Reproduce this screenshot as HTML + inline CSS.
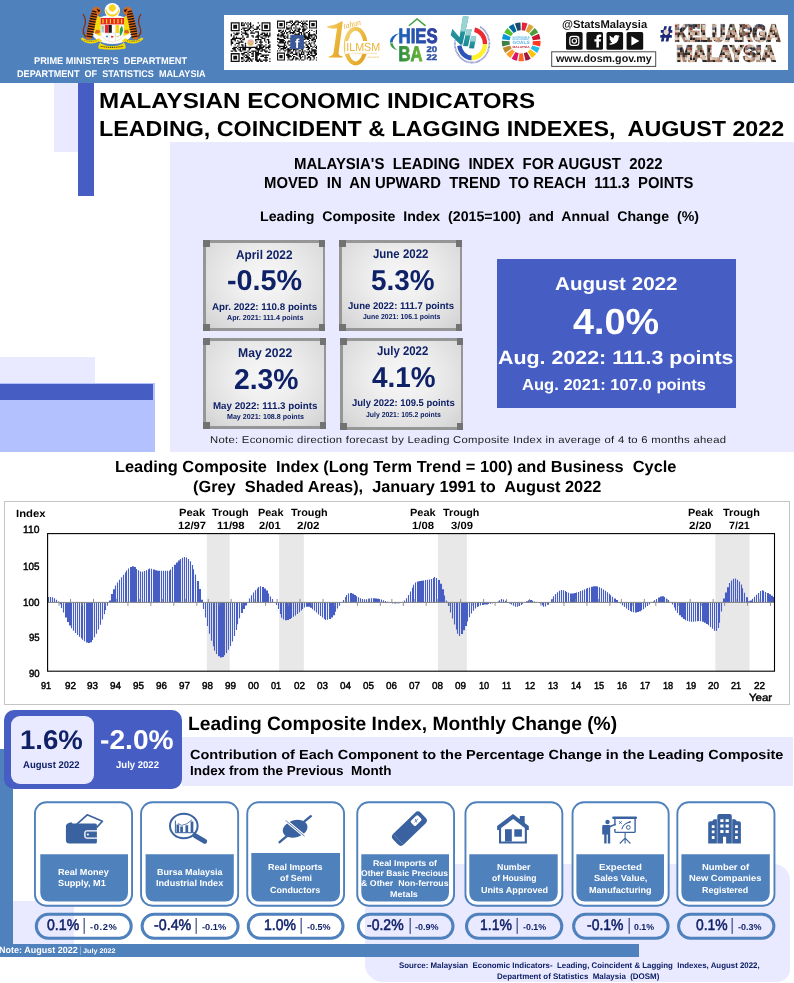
<!DOCTYPE html>
<html lang="en"><head><meta charset="utf-8"><title>Malaysian Economic Indicators - Leading, Coincident &amp; Lagging Indexes, August 2022</title>
<style>
html,body{margin:0;padding:0;background:#fff;}
body{font-family:"Liberation Sans",sans-serif;}
#pg{position:relative;width:794px;height:983px;overflow:hidden;background:#fff;}
.b{position:absolute;}
.t{position:absolute;white-space:pre;transform-origin:0 0;font-weight:bold;text-rendering:geometricPrecision;}
svg text{text-rendering:geometricPrecision;}
svg{position:absolute;overflow:visible;}
.card{position:absolute;background:#969696;}
.card b{position:absolute;left:2.5px;top:2.5px;right:2.5px;bottom:2.5px;background:radial-gradient(ellipse at 50% 42%,#f7f7f7 0%,#efefef 35%,#dcdcdc 80%,#d0d0d0 100%);}
.card i{position:absolute;width:6.5px;height:6.5px;background:#727272;}
.ic{position:absolute;box-sizing:border-box;border:2px solid #4F81BD;border-radius:12px;background:#fff;}
.lb{position:absolute;background:#4F81BD;border-radius:0 0 9px 9px;}
.pl{position:absolute;box-sizing:border-box;border:3px solid #4F81BD;border-radius:13.5px;}
</style></head><body><div id="pg">

<div class="b" style="left:0px;top:0px;width:794px;height:83px;background:#4F81BD;"></div>
<div class="b" style="left:54px;top:83px;width:26.5px;height:69px;background:#E9E9FF;"></div>
<div class="b" style="left:78px;top:83px;width:16.3px;height:113px;background:#465EC4;"></div>
<div class="b" style="left:170px;top:142px;width:624px;height:309.6px;background:#E9E9FF;"></div>
<div class="b" style="left:0px;top:357px;width:95px;height:26.3px;background:#E9E9FF;"></div>
<div class="b" style="left:0px;top:383px;width:154.7px;height:68.6px;background:#B3C2FF;"></div>
<div class="b" style="left:0px;top:384px;width:153px;height:16px;background:#465EC4;"></div>
<div class="b" style="left:224px;top:15px;width:564.2px;height:54.9px;background:#fff"></div><svg width="794" height="83" viewBox="0 0 794 83" style="left:0;top:0"><defs><linearGradient id="gd" x1="0" y1="0" x2="1" y2="1"><stop offset="0" stop-color="#F6D77A"/><stop offset="0.5" stop-color="#ECB73B"/><stop offset="1" stop-color="#E0A125"/></linearGradient><linearGradient id="hb" x1="0" y1="0" x2="1" y2="0"><stop offset="0" stop-color="#1F62B8"/><stop offset="1" stop-color="#2F3F9F"/></linearGradient><linearGradient id="hg" x1="0" y1="0" x2="1" y2="0"><stop offset="0" stop-color="#2B8C45"/><stop offset="1" stop-color="#6DB533"/></linearGradient><linearGradient id="tl" x1="0" y1="0" x2="0" y2="1"><stop offset="0" stop-color="#2FA9AC"/><stop offset="1" stop-color="#1B8593"/></linearGradient><pattern id="cg" width="35" height="20" patternUnits="userSpaceOnUse"><rect x="0.0" y="0.0" width="2.5" height="2.5" fill="#3a3a44"/><rect x="0.0" y="2.5" width="2.5" height="2.5" fill="#9a3a34"/><rect x="0.0" y="5.0" width="2.5" height="2.5" fill="#6e7a60"/><rect x="0.0" y="7.5" width="2.5" height="2.5" fill="#8a5a44"/><rect x="0.0" y="10.0" width="2.5" height="2.5" fill="#2b2420"/><rect x="0.0" y="12.5" width="2.5" height="2.5" fill="#bfa898"/><rect x="0.0" y="15.0" width="2.5" height="2.5" fill="#e8d4c4"/><rect x="0.0" y="17.5" width="2.5" height="2.5" fill="#b88a70"/><rect x="2.5" y="0.0" width="2.5" height="2.5" fill="#2f2a28"/><rect x="2.5" y="2.5" width="2.5" height="2.5" fill="#8a5a44"/><rect x="2.5" y="5.0" width="2.5" height="2.5" fill="#d9cfc8"/><rect x="2.5" y="7.5" width="2.5" height="2.5" fill="#d8b8a0"/><rect x="2.5" y="10.0" width="2.5" height="2.5" fill="#8a5a44"/><rect x="2.5" y="12.5" width="2.5" height="2.5" fill="#2b2420"/><rect x="2.5" y="15.0" width="2.5" height="2.5" fill="#e0c0a8"/><rect x="2.5" y="17.5" width="2.5" height="2.5" fill="#e0c0a8"/><rect x="5.0" y="0.0" width="2.5" height="2.5" fill="#2b2420"/><rect x="5.0" y="2.5" width="2.5" height="2.5" fill="#5a4638"/><rect x="5.0" y="5.0" width="2.5" height="2.5" fill="#2b2420"/><rect x="5.0" y="7.5" width="2.5" height="2.5" fill="#bfa898"/><rect x="5.0" y="10.0" width="2.5" height="2.5" fill="#e0c0a8"/><rect x="5.0" y="12.5" width="2.5" height="2.5" fill="#8a5a44"/><rect x="5.0" y="15.0" width="2.5" height="2.5" fill="#2f2a28"/><rect x="5.0" y="17.5" width="2.5" height="2.5" fill="#e8d4c4"/><rect x="7.5" y="0.0" width="2.5" height="2.5" fill="#5a4638"/><rect x="7.5" y="2.5" width="2.5" height="2.5" fill="#2f2a28"/><rect x="7.5" y="5.0" width="2.5" height="2.5" fill="#8a5a44"/><rect x="7.5" y="7.5" width="2.5" height="2.5" fill="#2f2a28"/><rect x="7.5" y="10.0" width="2.5" height="2.5" fill="#2f2a28"/><rect x="7.5" y="12.5" width="2.5" height="2.5" fill="#6e7a60"/><rect x="7.5" y="15.0" width="2.5" height="2.5" fill="#8a5a44"/><rect x="7.5" y="17.5" width="2.5" height="2.5" fill="#5a4638"/><rect x="10.0" y="0.0" width="2.5" height="2.5" fill="#8a5a44"/><rect x="10.0" y="2.5" width="2.5" height="2.5" fill="#bfa898"/><rect x="10.0" y="5.0" width="2.5" height="2.5" fill="#9a3a34"/><rect x="10.0" y="7.5" width="2.5" height="2.5" fill="#93735f"/><rect x="10.0" y="10.0" width="2.5" height="2.5" fill="#e0c0a8"/><rect x="10.0" y="12.5" width="2.5" height="2.5" fill="#9a3a34"/><rect x="10.0" y="15.0" width="2.5" height="2.5" fill="#bfa898"/><rect x="10.0" y="17.5" width="2.5" height="2.5" fill="#e8d4c4"/><rect x="12.5" y="0.0" width="2.5" height="2.5" fill="#2f2a28"/><rect x="12.5" y="2.5" width="2.5" height="2.5" fill="#93735f"/><rect x="12.5" y="5.0" width="2.5" height="2.5" fill="#bfa898"/><rect x="12.5" y="7.5" width="2.5" height="2.5" fill="#5a6a8a"/><rect x="12.5" y="10.0" width="2.5" height="2.5" fill="#e8d4c4"/><rect x="12.5" y="12.5" width="2.5" height="2.5" fill="#2f2a28"/><rect x="12.5" y="15.0" width="2.5" height="2.5" fill="#2f2a28"/><rect x="12.5" y="17.5" width="2.5" height="2.5" fill="#d8b8a0"/><rect x="15.0" y="0.0" width="2.5" height="2.5" fill="#b88a70"/><rect x="15.0" y="2.5" width="2.5" height="2.5" fill="#e8d4c4"/><rect x="15.0" y="5.0" width="2.5" height="2.5" fill="#bfa898"/><rect x="15.0" y="7.5" width="2.5" height="2.5" fill="#2b2420"/><rect x="15.0" y="10.0" width="2.5" height="2.5" fill="#2f2a28"/><rect x="15.0" y="12.5" width="2.5" height="2.5" fill="#8a5a44"/><rect x="15.0" y="15.0" width="2.5" height="2.5" fill="#c8b0a0"/><rect x="15.0" y="17.5" width="2.5" height="2.5" fill="#d8b8a0"/><rect x="17.5" y="0.0" width="2.5" height="2.5" fill="#a88c7c"/><rect x="17.5" y="2.5" width="2.5" height="2.5" fill="#bfa898"/><rect x="17.5" y="5.0" width="2.5" height="2.5" fill="#e0c0a8"/><rect x="17.5" y="7.5" width="2.5" height="2.5" fill="#3a3a44"/><rect x="17.5" y="10.0" width="2.5" height="2.5" fill="#4a3a34"/><rect x="17.5" y="12.5" width="2.5" height="2.5" fill="#2f2a28"/><rect x="17.5" y="15.0" width="2.5" height="2.5" fill="#4a3a34"/><rect x="17.5" y="17.5" width="2.5" height="2.5" fill="#b88a70"/><rect x="20.0" y="0.0" width="2.5" height="2.5" fill="#93735f"/><rect x="20.0" y="2.5" width="2.5" height="2.5" fill="#5a4638"/><rect x="20.0" y="5.0" width="2.5" height="2.5" fill="#5a6a8a"/><rect x="20.0" y="7.5" width="2.5" height="2.5" fill="#5a4638"/><rect x="20.0" y="10.0" width="2.5" height="2.5" fill="#2b2420"/><rect x="20.0" y="12.5" width="2.5" height="2.5" fill="#2f2a28"/><rect x="20.0" y="15.0" width="2.5" height="2.5" fill="#93735f"/><rect x="20.0" y="17.5" width="2.5" height="2.5" fill="#d9cfc8"/><rect x="22.5" y="0.0" width="2.5" height="2.5" fill="#a88c7c"/><rect x="22.5" y="2.5" width="2.5" height="2.5" fill="#3a3a44"/><rect x="22.5" y="5.0" width="2.5" height="2.5" fill="#4a3a34"/><rect x="22.5" y="7.5" width="2.5" height="2.5" fill="#93735f"/><rect x="22.5" y="10.0" width="2.5" height="2.5" fill="#c8b0a0"/><rect x="22.5" y="12.5" width="2.5" height="2.5" fill="#2b2420"/><rect x="22.5" y="15.0" width="2.5" height="2.5" fill="#e8d4c4"/><rect x="22.5" y="17.5" width="2.5" height="2.5" fill="#d9cfc8"/><rect x="25.0" y="0.0" width="2.5" height="2.5" fill="#e0c0a8"/><rect x="25.0" y="2.5" width="2.5" height="2.5" fill="#5a6a8a"/><rect x="25.0" y="5.0" width="2.5" height="2.5" fill="#3a3a44"/><rect x="25.0" y="7.5" width="2.5" height="2.5" fill="#9a3a34"/><rect x="25.0" y="10.0" width="2.5" height="2.5" fill="#a88c7c"/><rect x="25.0" y="12.5" width="2.5" height="2.5" fill="#e0c0a8"/><rect x="25.0" y="15.0" width="2.5" height="2.5" fill="#8a5a44"/><rect x="25.0" y="17.5" width="2.5" height="2.5" fill="#2b2420"/><rect x="27.5" y="0.0" width="2.5" height="2.5" fill="#bfa898"/><rect x="27.5" y="2.5" width="2.5" height="2.5" fill="#2f2a28"/><rect x="27.5" y="5.0" width="2.5" height="2.5" fill="#3a3a44"/><rect x="27.5" y="7.5" width="2.5" height="2.5" fill="#3a3a44"/><rect x="27.5" y="10.0" width="2.5" height="2.5" fill="#b88a70"/><rect x="27.5" y="12.5" width="2.5" height="2.5" fill="#c8b0a0"/><rect x="27.5" y="15.0" width="2.5" height="2.5" fill="#a88c7c"/><rect x="27.5" y="17.5" width="2.5" height="2.5" fill="#2f2a28"/><rect x="30.0" y="0.0" width="2.5" height="2.5" fill="#4a3a34"/><rect x="30.0" y="2.5" width="2.5" height="2.5" fill="#2b2420"/><rect x="30.0" y="5.0" width="2.5" height="2.5" fill="#2b2420"/><rect x="30.0" y="7.5" width="2.5" height="2.5" fill="#efe8e2"/><rect x="30.0" y="10.0" width="2.5" height="2.5" fill="#a88c7c"/><rect x="30.0" y="12.5" width="2.5" height="2.5" fill="#2b2420"/><rect x="30.0" y="15.0" width="2.5" height="2.5" fill="#8a5a44"/><rect x="30.0" y="17.5" width="2.5" height="2.5" fill="#93735f"/><rect x="32.5" y="0.0" width="2.5" height="2.5" fill="#2f2a28"/><rect x="32.5" y="2.5" width="2.5" height="2.5" fill="#4a3a34"/><rect x="32.5" y="5.0" width="2.5" height="2.5" fill="#93735f"/><rect x="32.5" y="7.5" width="2.5" height="2.5" fill="#6e7a60"/><rect x="32.5" y="10.0" width="2.5" height="2.5" fill="#b88a70"/><rect x="32.5" y="12.5" width="2.5" height="2.5" fill="#c9a088"/><rect x="32.5" y="15.0" width="2.5" height="2.5" fill="#4a3a34"/><rect x="32.5" y="17.5" width="2.5" height="2.5" fill="#b88a70"/></pattern></defs><path d="M93 12Q100 5 112 4Q124 5 131 12L134 30Q133 40 126 43L98 43Q91 40 90 30z" fill="#fff" opacity="0.0"/><ellipse cx="112.3" cy="29.5" rx="21.5" ry="14.5" fill="#fff"/><circle cx="112.3" cy="10.6" r="7.7" fill="#fff"/><path d="M80.6 38.8Q84 43 90 43.4Q96 43.6 99 41.2L101.5 43.8Q106 46.3 112 46.3Q118 46.3 122.5 43.8L125 41.2Q128 43.6 134 43.4Q140 43 143.6 38.8L141.8 37.6Q138 40.6 133 40.4Q128 40.2 125.6 38.2L122 40.6L124.5 43.4Q126.5 46.4 125 48.8Q118 49.8 112 49.8Q106 49.8 99 48.8Q97.5 46.4 99.5 43.4L102 40.6L98.4 38.2Q96 40.2 91 40.4Q86 40.6 82.4 37.6z" fill="#F5D90A"/><path d="M100.5 46.2Q112 48.6 123.5 46.2" stroke="#5a4a00" stroke-width="1.1" fill="none" stroke-dasharray="1.2 0.7"/><path d="M84 40.2Q90 42.5 97 40.6M127 40.6Q134 42.5 140 40.2" stroke="#6b5a00" stroke-width="0.8" fill="none" stroke-dasharray="1 0.8"/><path d="M87 38Q81 33 84.5 26Q87 20 83 14" stroke="#8a2d12" stroke-width="1.3" fill="none"/><path d="M97 15Q101 17 101 22L100.5 36Q98 36 94.5 33Q92.5 26 97 15z" fill="#F5D90A"/><path d="M95.5 6.8Q100.5 7 101 11.5Q100 14.5 97.8 15.5Q95.5 21 94.6 27Q93.5 33 91 39.5L86.5 39.5Q85.5 33 88.5 24Q90.5 14 92.5 9.5Q93.5 7.2 95.5 6.8z" fill="#DA6A1B"/><path d="M92.2 11L96.5 12.1M91.2 13.5L97 14.6M90.4 16L96.8 17.1M89.8 18.5L96.2 19.6M89.2 21L95.6 22.1M88.6 23.5L95.2 24.6M88 26L94.8 27.1M87.4 28.5L94.4 29.6M87 31L94 32.1M86.8 33.5L93.4 34.6M86.6 36L92.6 37.1" stroke="#2a1206" stroke-width="1.3"/><path d="M96.5 8.6L100.4 10.2L98.6 12.6z" fill="#2a1206"/><path d="M96 30Q99.5 29 100.5 32Q98 34.5 94.5 33z" fill="#DA6A1B"/><path d="M137 38Q143 33 139.5 26Q137 20 141 14" stroke="#8a2d12" stroke-width="1.3" fill="none"/><path d="M127 15Q123 17 123 22L123.5 36Q126 36 129.5 33Q131.5 26 127 15z" fill="#F5D90A"/><path d="M128.5 6.8Q123.5 7 123 11.5Q124 14.5 126.2 15.5Q128.5 21 129.4 27Q130.5 33 133 39.5L137.5 39.5Q138.5 33 135.5 24Q133.5 14 131.5 9.5Q130.5 7.2 128.5 6.8z" fill="#DA6A1B"/><path d="M131.8 11L127.5 12.1M132.8 13.5L127 14.6M133.6 16L127.2 17.1M134.2 18.5L127.8 19.6M134.8 21L128.4 22.1M135.4 23.5L128.8 24.6M136 26L129.2 27.1M136.6 28.5L129.6 29.6M137 31L130 32.1M137.2 33.5L130.6 34.6M137.4 36L131.4 37.1" stroke="#2a1206" stroke-width="1.3"/><path d="M127.5 8.6L123.6 10.2L125.4 12.6z" fill="#2a1206"/><path d="M128 30Q124.5 29 123.5 32Q126 34.5 129.5 33z" fill="#DA6A1B"/><path d="M105.2 9.6A7.1 7.1 0 0 0 119.4 9.6L118.2 9.2A5.9 5.4 0 0 1 106.4 9.2z" fill="#F7D417"/><polygon points="112.30,3.80 112.97,5.08 114.12,4.22 114.17,5.65 115.58,5.38 115.00,6.70 116.39,7.07 115.30,8.00 116.39,8.93 115.00,9.30 115.58,10.62 114.17,10.35 114.12,11.78 112.97,10.92 112.30,12.20 111.63,10.92 110.48,11.78 110.43,10.35 109.02,10.62 109.60,9.30 108.21,8.93 109.30,8.00 108.21,7.07 109.60,6.70 109.02,5.38 110.43,5.65 110.48,4.22 111.63,5.08" fill="#F7D417"/><path d="M100.7 18H124V32Q124 39.5 112.3 42.4Q100.7 39.5 100.7 32z" fill="#fff" stroke="#d8c27a" stroke-width="0.4"/><rect x="100.7" y="18" width="23.3" height="6.4" fill="#E8262B"/><path d="M103 19v4.6M106.6 19v4.6M110.4 19v4.6M114.2 19v4.6M118 19v4.6M121.6 19v4.6" stroke="#F7D417" stroke-width="1.2"/><rect x="104.9" y="24.9" width="3.7" height="8" fill="#E8262B"/><rect x="108.6" y="24.9" width="3.2" height="8" fill="#1a1a1a"/><rect x="115.5" y="24.9" width="3.7" height="8" fill="#F7D417"/><path d="M101.4 25.5h2.8v7h-2.8z" fill="#9ed0e8"/><path d="M102.4 26v3" stroke="#d8b000" stroke-width="0.8"/><path d="M121.6 25.6Q123.4 28 123 31Q121.6 35 119.9 36.6Q119.4 32 120 29z" fill="#27A54A"/><circle cx="107" cy="36.4" r="1" fill="#3b7fd0"/><path d="M111 35.6l2.8 1-2.2 1.6z" fill="#d22"/><path d="M116 35.6l1.6 1.6 1.2-1.8" stroke="#c9a400" stroke-width="0.7" fill="none"/><path d="M104.9 33H119.2M108.9 33V40.8M115.4 33V41" stroke="#bbb" stroke-width="0.4"/><path d="M230.70 22.30h8.99v1.28h-8.99zM240.97 22.30h2.57v1.28h-2.57zM244.82 22.30h1.28v1.28h-1.28zM247.39 22.30h1.28v1.28h-1.28zM249.96 22.30h1.28v1.28h-1.28zM257.66 22.30h1.28v1.28h-1.28zM261.51 22.30h8.99v1.28h-8.99zM230.70 23.58h1.28v1.28h-1.28zM238.40 23.58h1.28v1.28h-1.28zM240.97 23.58h1.28v1.28h-1.28zM243.54 23.58h1.28v1.28h-1.28zM246.11 23.58h1.28v1.28h-1.28zM248.67 23.58h2.57v1.28h-2.57zM261.51 23.58h1.28v1.28h-1.28zM269.22 23.58h1.28v1.28h-1.28zM230.70 24.87h1.28v1.28h-1.28zM233.27 24.87h3.85v1.28h-3.85zM238.40 24.87h1.28v1.28h-1.28zM240.97 24.87h3.85v1.28h-3.85zM247.39 24.87h1.28v1.28h-1.28zM249.96 24.87h1.28v1.28h-1.28zM252.53 24.87h1.28v1.28h-1.28zM258.95 24.87h1.28v1.28h-1.28zM261.51 24.87h1.28v1.28h-1.28zM264.08 24.87h3.85v1.28h-3.85zM269.22 24.87h1.28v1.28h-1.28zM230.70 26.15h1.28v1.28h-1.28zM233.27 26.15h3.85v1.28h-3.85zM238.40 26.15h1.28v1.28h-1.28zM247.39 26.15h1.28v1.28h-1.28zM249.96 26.15h2.57v1.28h-2.57zM256.38 26.15h2.57v1.28h-2.57zM261.51 26.15h1.28v1.28h-1.28zM264.08 26.15h3.85v1.28h-3.85zM269.22 26.15h1.28v1.28h-1.28zM230.70 27.44h1.28v1.28h-1.28zM233.27 27.44h3.85v1.28h-3.85zM238.40 27.44h1.28v1.28h-1.28zM242.25 27.44h5.14v1.28h-5.14zM248.67 27.44h2.57v1.28h-2.57zM252.53 27.44h1.28v1.28h-1.28zM256.38 27.44h2.57v1.28h-2.57zM261.51 27.44h1.28v1.28h-1.28zM264.08 27.44h3.85v1.28h-3.85zM269.22 27.44h1.28v1.28h-1.28zM230.70 28.72h1.28v1.28h-1.28zM238.40 28.72h1.28v1.28h-1.28zM240.97 28.72h1.28v1.28h-1.28zM243.54 28.72h1.28v1.28h-1.28zM247.39 28.72h2.57v1.28h-2.57zM253.81 28.72h3.85v1.28h-3.85zM258.95 28.72h1.28v1.28h-1.28zM261.51 28.72h1.28v1.28h-1.28zM269.22 28.72h1.28v1.28h-1.28zM230.70 30.00h8.99v1.28h-8.99zM243.54 30.00h5.14v1.28h-5.14zM249.96 30.00h1.28v1.28h-1.28zM252.53 30.00h1.28v1.28h-1.28zM261.51 30.00h8.99v1.28h-8.99zM240.97 31.29h1.28v1.28h-1.28zM244.82 31.29h1.28v1.28h-1.28zM251.24 31.29h1.28v1.28h-1.28zM255.09 31.29h3.85v1.28h-3.85zM233.27 32.57h1.28v1.28h-1.28zM235.84 32.57h3.85v1.28h-3.85zM242.25 32.57h5.14v1.28h-5.14zM249.96 32.57h5.14v1.28h-5.14zM257.66 32.57h1.28v1.28h-1.28zM261.51 32.57h3.85v1.28h-3.85zM266.65 32.57h1.28v1.28h-1.28zM269.22 32.57h1.28v1.28h-1.28zM230.70 33.85h1.28v1.28h-1.28zM234.55 33.85h3.85v1.28h-3.85zM240.97 33.85h1.28v1.28h-1.28zM244.82 33.85h3.85v1.28h-3.85zM257.66 33.85h1.28v1.28h-1.28zM260.23 33.85h2.57v1.28h-2.57zM264.08 33.85h3.85v1.28h-3.85zM269.22 33.85h1.28v1.28h-1.28zM230.70 35.14h1.28v1.28h-1.28zM233.27 35.14h1.28v1.28h-1.28zM242.25 35.14h1.28v1.28h-1.28zM247.39 35.14h1.28v1.28h-1.28zM251.24 35.14h2.57v1.28h-2.57zM256.38 35.14h3.85v1.28h-3.85zM262.80 35.14h7.70v1.28h-7.70zM233.27 36.42h1.28v1.28h-1.28zM235.84 36.42h1.28v1.28h-1.28zM242.25 36.42h1.28v1.28h-1.28zM246.11 36.42h2.57v1.28h-2.57zM252.53 36.42h1.28v1.28h-1.28zM255.09 36.42h3.85v1.28h-3.85zM260.23 36.42h2.57v1.28h-2.57zM265.36 36.42h1.28v1.28h-1.28zM267.93 36.42h1.28v1.28h-1.28zM231.98 37.71h10.27v1.28h-10.27zM243.54 37.71h1.28v1.28h-1.28zM257.66 37.71h1.28v1.28h-1.28zM261.51 37.71h3.85v1.28h-3.85zM230.70 38.99h5.14v1.28h-5.14zM239.69 38.99h1.28v1.28h-1.28zM242.25 38.99h2.57v1.28h-2.57zM255.09 38.99h6.42v1.28h-6.42zM264.08 38.99h1.28v1.28h-1.28zM266.65 38.99h2.57v1.28h-2.57zM230.70 40.27h1.28v1.28h-1.28zM234.55 40.27h1.28v1.28h-1.28zM237.12 40.27h1.28v1.28h-1.28zM240.97 40.27h1.28v1.28h-1.28zM255.09 40.27h1.28v1.28h-1.28zM260.23 40.27h1.28v1.28h-1.28zM264.08 40.27h1.28v1.28h-1.28zM267.93 40.27h1.28v1.28h-1.28zM230.70 41.56h2.57v1.28h-2.57zM238.40 41.56h5.14v1.28h-5.14zM256.38 41.56h1.28v1.28h-1.28zM258.95 41.56h3.85v1.28h-3.85zM265.36 41.56h1.28v1.28h-1.28zM267.93 41.56h2.57v1.28h-2.57zM230.70 42.84h2.57v1.28h-2.57zM235.84 42.84h3.85v1.28h-3.85zM244.82 42.84h1.28v1.28h-1.28zM255.09 42.84h1.28v1.28h-1.28zM260.23 42.84h1.28v1.28h-1.28zM267.93 42.84h1.28v1.28h-1.28zM230.70 44.13h1.28v1.28h-1.28zM234.55 44.13h1.28v1.28h-1.28zM238.40 44.13h1.28v1.28h-1.28zM240.97 44.13h2.57v1.28h-2.57zM244.82 44.13h1.28v1.28h-1.28zM257.66 44.13h5.14v1.28h-5.14zM265.36 44.13h1.28v1.28h-1.28zM269.22 44.13h1.28v1.28h-1.28zM237.12 45.41h1.28v1.28h-1.28zM242.25 45.41h1.28v1.28h-1.28zM244.82 45.41h1.28v1.28h-1.28zM256.38 45.41h1.28v1.28h-1.28zM258.95 45.41h2.57v1.28h-2.57zM262.80 45.41h2.57v1.28h-2.57zM267.93 45.41h2.57v1.28h-2.57zM233.27 46.69h3.85v1.28h-3.85zM238.40 46.69h19.26v1.28h-19.26zM258.95 46.69h5.14v1.28h-5.14zM265.36 46.69h5.14v1.28h-5.14zM231.98 47.98h3.85v1.28h-3.85zM237.12 47.98h1.28v1.28h-1.28zM239.69 47.98h1.28v1.28h-1.28zM242.25 47.98h3.85v1.28h-3.85zM248.67 47.98h2.57v1.28h-2.57zM255.09 47.98h7.70v1.28h-7.70zM265.36 47.98h1.28v1.28h-1.28zM267.93 47.98h1.28v1.28h-1.28zM233.27 49.26h2.57v1.28h-2.57zM238.40 49.26h2.57v1.28h-2.57zM242.25 49.26h3.85v1.28h-3.85zM248.67 49.26h1.28v1.28h-1.28zM256.38 49.26h3.85v1.28h-3.85zM261.51 49.26h3.85v1.28h-3.85zM269.22 49.26h1.28v1.28h-1.28zM230.70 50.55h2.57v1.28h-2.57zM234.55 50.55h2.57v1.28h-2.57zM239.69 50.55h2.57v1.28h-2.57zM247.39 50.55h1.28v1.28h-1.28zM251.24 50.55h5.14v1.28h-5.14zM257.66 50.55h1.28v1.28h-1.28zM260.23 50.55h2.57v1.28h-2.57zM264.08 50.55h3.85v1.28h-3.85zM243.54 51.83h3.85v1.28h-3.85zM248.67 51.83h2.57v1.28h-2.57zM252.53 51.83h1.28v1.28h-1.28zM255.09 51.83h3.85v1.28h-3.85zM265.36 51.83h1.28v1.28h-1.28zM267.93 51.83h2.57v1.28h-2.57zM230.70 53.11h8.99v1.28h-8.99zM240.97 53.11h3.85v1.28h-3.85zM247.39 53.11h1.28v1.28h-1.28zM251.24 53.11h2.57v1.28h-2.57zM255.09 53.11h6.42v1.28h-6.42zM230.70 54.40h1.28v1.28h-1.28zM238.40 54.40h1.28v1.28h-1.28zM242.25 54.40h1.28v1.28h-1.28zM244.82 54.40h2.57v1.28h-2.57zM248.67 54.40h1.28v1.28h-1.28zM252.53 54.40h1.28v1.28h-1.28zM255.09 54.40h3.85v1.28h-3.85zM261.51 54.40h7.70v1.28h-7.70zM230.70 55.68h1.28v1.28h-1.28zM233.27 55.68h3.85v1.28h-3.85zM238.40 55.68h1.28v1.28h-1.28zM243.54 55.68h1.28v1.28h-1.28zM246.11 55.68h2.57v1.28h-2.57zM251.24 55.68h2.57v1.28h-2.57zM255.09 55.68h2.57v1.28h-2.57zM260.23 55.68h3.85v1.28h-3.85zM265.36 55.68h1.28v1.28h-1.28zM230.70 56.96h1.28v1.28h-1.28zM233.27 56.96h3.85v1.28h-3.85zM238.40 56.96h1.28v1.28h-1.28zM240.97 56.96h2.57v1.28h-2.57zM244.82 56.96h5.14v1.28h-5.14zM255.09 56.96h2.57v1.28h-2.57zM264.08 56.96h3.85v1.28h-3.85zM230.70 58.25h1.28v1.28h-1.28zM233.27 58.25h3.85v1.28h-3.85zM238.40 58.25h1.28v1.28h-1.28zM240.97 58.25h2.57v1.28h-2.57zM247.39 58.25h3.85v1.28h-3.85zM252.53 58.25h1.28v1.28h-1.28zM255.09 58.25h2.57v1.28h-2.57zM258.95 58.25h1.28v1.28h-1.28zM265.36 58.25h1.28v1.28h-1.28zM269.22 58.25h1.28v1.28h-1.28zM230.70 59.53h1.28v1.28h-1.28zM238.40 59.53h1.28v1.28h-1.28zM243.54 59.53h1.28v1.28h-1.28zM246.11 59.53h2.57v1.28h-2.57zM249.96 59.53h2.57v1.28h-2.57zM255.09 59.53h6.42v1.28h-6.42zM262.80 59.53h5.14v1.28h-5.14zM230.70 60.82h8.99v1.28h-8.99zM240.97 60.82h2.57v1.28h-2.57zM244.82 60.82h2.57v1.28h-2.57zM248.67 60.82h1.28v1.28h-1.28zM251.24 60.82h1.28v1.28h-1.28zM256.38 60.82h2.57v1.28h-2.57zM260.23 60.82h2.57v1.28h-2.57zM265.36 60.82h1.28v1.28h-1.28zM269.22 60.82h1.28v1.28h-1.28z" fill="#111"/><circle cx="250.6" cy="42.5" r="3.2" fill="#e9b6a0"/><path d="M248.6 43.6h4v1.6h-4z" fill="#d8c040"/><path d="M277.00 20.60h8.00v1.14h-8.00zM289.57 20.60h3.43v1.14h-3.43zM295.29 20.60h3.43v1.14h-3.43zM301.00 20.60h1.14v1.14h-1.14zM303.29 20.60h1.14v1.14h-1.14zM305.57 20.60h2.29v1.14h-2.29zM309.00 20.60h8.00v1.14h-8.00zM277.00 21.74h1.14v1.14h-1.14zM283.86 21.74h1.14v1.14h-1.14zM286.14 21.74h4.57v1.14h-4.57zM291.86 21.74h1.14v1.14h-1.14zM294.14 21.74h2.29v1.14h-2.29zM297.57 21.74h3.43v1.14h-3.43zM302.14 21.74h1.14v1.14h-1.14zM304.43 21.74h1.14v1.14h-1.14zM309.00 21.74h1.14v1.14h-1.14zM315.86 21.74h1.14v1.14h-1.14zM277.00 22.89h1.14v1.14h-1.14zM279.29 22.89h3.43v1.14h-3.43zM283.86 22.89h1.14v1.14h-1.14zM286.14 22.89h1.14v1.14h-1.14zM290.71 22.89h1.14v1.14h-1.14zM293.00 22.89h2.29v1.14h-2.29zM297.57 22.89h1.14v1.14h-1.14zM301.00 22.89h5.71v1.14h-5.71zM309.00 22.89h1.14v1.14h-1.14zM311.29 22.89h3.43v1.14h-3.43zM315.86 22.89h1.14v1.14h-1.14zM277.00 24.03h1.14v1.14h-1.14zM279.29 24.03h3.43v1.14h-3.43zM283.86 24.03h1.14v1.14h-1.14zM286.14 24.03h1.14v1.14h-1.14zM291.86 24.03h3.43v1.14h-3.43zM296.43 24.03h2.29v1.14h-2.29zM302.14 24.03h2.29v1.14h-2.29zM305.57 24.03h2.29v1.14h-2.29zM309.00 24.03h1.14v1.14h-1.14zM311.29 24.03h3.43v1.14h-3.43zM315.86 24.03h1.14v1.14h-1.14zM277.00 25.17h1.14v1.14h-1.14zM279.29 25.17h3.43v1.14h-3.43zM283.86 25.17h1.14v1.14h-1.14zM288.43 25.17h1.14v1.14h-1.14zM290.71 25.17h2.29v1.14h-2.29zM295.29 25.17h1.14v1.14h-1.14zM299.86 25.17h1.14v1.14h-1.14zM302.14 25.17h1.14v1.14h-1.14zM304.43 25.17h1.14v1.14h-1.14zM309.00 25.17h1.14v1.14h-1.14zM311.29 25.17h3.43v1.14h-3.43zM315.86 25.17h1.14v1.14h-1.14zM277.00 26.31h1.14v1.14h-1.14zM283.86 26.31h1.14v1.14h-1.14zM286.14 26.31h1.14v1.14h-1.14zM290.71 26.31h1.14v1.14h-1.14zM295.29 26.31h1.14v1.14h-1.14zM301.00 26.31h3.43v1.14h-3.43zM305.57 26.31h1.14v1.14h-1.14zM309.00 26.31h1.14v1.14h-1.14zM315.86 26.31h1.14v1.14h-1.14zM277.00 27.46h8.00v1.14h-8.00zM286.14 27.46h5.71v1.14h-5.71zM293.00 27.46h2.29v1.14h-2.29zM296.43 27.46h1.14v1.14h-1.14zM298.71 27.46h1.14v1.14h-1.14zM303.29 27.46h1.14v1.14h-1.14zM306.71 27.46h1.14v1.14h-1.14zM309.00 27.46h8.00v1.14h-8.00zM286.14 28.60h3.43v1.14h-3.43zM290.71 28.60h1.14v1.14h-1.14zM295.29 28.60h1.14v1.14h-1.14zM297.57 28.60h3.43v1.14h-3.43zM302.14 28.60h4.57v1.14h-4.57zM278.14 29.74h3.43v1.14h-3.43zM282.71 29.74h1.14v1.14h-1.14zM285.00 29.74h1.14v1.14h-1.14zM289.57 29.74h1.14v1.14h-1.14zM291.86 29.74h1.14v1.14h-1.14zM294.14 29.74h2.29v1.14h-2.29zM297.57 29.74h2.29v1.14h-2.29zM302.14 29.74h3.43v1.14h-3.43zM309.00 29.74h1.14v1.14h-1.14zM311.29 29.74h1.14v1.14h-1.14zM315.86 29.74h1.14v1.14h-1.14zM278.14 30.89h2.29v1.14h-2.29zM281.57 30.89h2.29v1.14h-2.29zM285.00 30.89h1.14v1.14h-1.14zM288.43 30.89h2.29v1.14h-2.29zM293.00 30.89h2.29v1.14h-2.29zM296.43 30.89h3.43v1.14h-3.43zM302.14 30.89h2.29v1.14h-2.29zM307.86 30.89h1.14v1.14h-1.14zM313.57 30.89h1.14v1.14h-1.14zM315.86 30.89h1.14v1.14h-1.14zM280.43 32.03h2.29v1.14h-2.29zM283.86 32.03h1.14v1.14h-1.14zM286.14 32.03h2.29v1.14h-2.29zM289.57 32.03h5.71v1.14h-5.71zM298.71 32.03h3.43v1.14h-3.43zM303.29 32.03h1.14v1.14h-1.14zM305.57 32.03h2.29v1.14h-2.29zM309.00 32.03h1.14v1.14h-1.14zM315.86 32.03h1.14v1.14h-1.14zM278.14 33.17h1.14v1.14h-1.14zM281.57 33.17h3.43v1.14h-3.43zM286.14 33.17h1.14v1.14h-1.14zM289.57 33.17h1.14v1.14h-1.14zM291.86 33.17h2.29v1.14h-2.29zM295.29 33.17h1.14v1.14h-1.14zM297.57 33.17h2.29v1.14h-2.29zM301.00 33.17h1.14v1.14h-1.14zM303.29 33.17h2.29v1.14h-2.29zM307.86 33.17h2.29v1.14h-2.29zM313.57 33.17h1.14v1.14h-1.14zM315.86 33.17h1.14v1.14h-1.14zM277.00 34.31h2.29v1.14h-2.29zM280.43 34.31h3.43v1.14h-3.43zM287.29 34.31h1.14v1.14h-1.14zM294.14 34.31h5.71v1.14h-5.71zM301.00 34.31h1.14v1.14h-1.14zM303.29 34.31h2.29v1.14h-2.29zM307.86 34.31h8.00v1.14h-8.00zM277.00 35.46h9.14v1.14h-9.14zM287.29 35.46h1.14v1.14h-1.14zM291.86 35.46h1.14v1.14h-1.14zM294.14 35.46h1.14v1.14h-1.14zM296.43 35.46h1.14v1.14h-1.14zM299.86 35.46h6.86v1.14h-6.86zM307.86 35.46h4.57v1.14h-4.57zM314.71 35.46h2.29v1.14h-2.29zM280.43 36.60h1.14v1.14h-1.14zM282.71 36.60h2.29v1.14h-2.29zM286.14 36.60h2.29v1.14h-2.29zM291.86 36.60h1.14v1.14h-1.14zM301.00 36.60h9.14v1.14h-9.14zM311.29 36.60h1.14v1.14h-1.14zM313.57 36.60h1.14v1.14h-1.14zM315.86 36.60h1.14v1.14h-1.14zM277.00 37.74h2.29v1.14h-2.29zM283.86 37.74h2.29v1.14h-2.29zM287.29 37.74h1.14v1.14h-1.14zM289.57 37.74h1.14v1.14h-1.14zM301.00 37.74h1.14v1.14h-1.14zM304.43 37.74h6.86v1.14h-6.86zM312.43 37.74h2.29v1.14h-2.29zM315.86 37.74h1.14v1.14h-1.14zM277.00 38.89h6.86v1.14h-6.86zM290.71 38.89h1.14v1.14h-1.14zM301.00 38.89h4.57v1.14h-4.57zM306.71 38.89h2.29v1.14h-2.29zM311.29 38.89h4.57v1.14h-4.57zM279.29 40.03h5.71v1.14h-5.71zM288.43 40.03h1.14v1.14h-1.14zM290.71 40.03h1.14v1.14h-1.14zM301.00 40.03h2.29v1.14h-2.29zM309.00 40.03h1.14v1.14h-1.14zM311.29 40.03h2.29v1.14h-2.29zM314.71 40.03h1.14v1.14h-1.14zM277.00 41.17h1.14v1.14h-1.14zM279.29 41.17h4.57v1.14h-4.57zM285.00 41.17h1.14v1.14h-1.14zM287.29 41.17h3.43v1.14h-3.43zM301.00 41.17h2.29v1.14h-2.29zM305.57 41.17h1.14v1.14h-1.14zM307.86 41.17h1.14v1.14h-1.14zM313.57 41.17h2.29v1.14h-2.29zM278.14 42.31h8.00v1.14h-8.00zM287.29 42.31h1.14v1.14h-1.14zM301.00 42.31h4.57v1.14h-4.57zM309.00 42.31h1.14v1.14h-1.14zM311.29 42.31h1.14v1.14h-1.14zM313.57 42.31h1.14v1.14h-1.14zM283.86 43.46h1.14v1.14h-1.14zM287.29 43.46h1.14v1.14h-1.14zM290.71 43.46h2.29v1.14h-2.29zM301.00 43.46h1.14v1.14h-1.14zM305.57 43.46h1.14v1.14h-1.14zM307.86 43.46h3.43v1.14h-3.43zM313.57 43.46h1.14v1.14h-1.14zM277.00 44.60h2.29v1.14h-2.29zM283.86 44.60h2.29v1.14h-2.29zM288.43 44.60h2.29v1.14h-2.29zM293.00 44.60h3.43v1.14h-3.43zM298.71 44.60h2.29v1.14h-2.29zM305.57 44.60h2.29v1.14h-2.29zM310.14 44.60h1.14v1.14h-1.14zM314.71 44.60h1.14v1.14h-1.14zM278.14 45.74h6.86v1.14h-6.86zM286.14 45.74h1.14v1.14h-1.14zM297.57 45.74h6.86v1.14h-6.86zM306.71 45.74h2.29v1.14h-2.29zM310.14 45.74h2.29v1.14h-2.29zM313.57 45.74h1.14v1.14h-1.14zM315.86 45.74h1.14v1.14h-1.14zM279.29 46.89h1.14v1.14h-1.14zM282.71 46.89h4.57v1.14h-4.57zM289.57 46.89h3.43v1.14h-3.43zM296.43 46.89h2.29v1.14h-2.29zM301.00 46.89h3.43v1.14h-3.43zM305.57 46.89h4.57v1.14h-4.57zM312.43 46.89h1.14v1.14h-1.14zM314.71 46.89h2.29v1.14h-2.29zM278.14 48.03h1.14v1.14h-1.14zM280.43 48.03h5.71v1.14h-5.71zM287.29 48.03h2.29v1.14h-2.29zM290.71 48.03h4.57v1.14h-4.57zM298.71 48.03h2.29v1.14h-2.29zM302.14 48.03h1.14v1.14h-1.14zM307.86 48.03h2.29v1.14h-2.29zM311.29 48.03h1.14v1.14h-1.14zM315.86 48.03h1.14v1.14h-1.14zM280.43 49.17h1.14v1.14h-1.14zM282.71 49.17h1.14v1.14h-1.14zM286.14 49.17h5.71v1.14h-5.71zM293.00 49.17h5.71v1.14h-5.71zM301.00 49.17h2.29v1.14h-2.29zM306.71 49.17h2.29v1.14h-2.29zM311.29 49.17h4.57v1.14h-4.57zM277.00 50.31h1.14v1.14h-1.14zM279.29 50.31h1.14v1.14h-1.14zM283.86 50.31h2.29v1.14h-2.29zM287.29 50.31h3.43v1.14h-3.43zM293.00 50.31h1.14v1.14h-1.14zM295.29 50.31h1.14v1.14h-1.14zM298.71 50.31h2.29v1.14h-2.29zM302.14 50.31h1.14v1.14h-1.14zM304.43 50.31h1.14v1.14h-1.14zM309.00 50.31h1.14v1.14h-1.14zM311.29 50.31h5.71v1.14h-5.71zM287.29 51.46h2.29v1.14h-2.29zM290.71 51.46h2.29v1.14h-2.29zM295.29 51.46h1.14v1.14h-1.14zM297.57 51.46h1.14v1.14h-1.14zM301.00 51.46h3.43v1.14h-3.43zM305.57 51.46h6.86v1.14h-6.86zM313.57 51.46h2.29v1.14h-2.29zM277.00 52.60h8.00v1.14h-8.00zM287.29 52.60h1.14v1.14h-1.14zM289.57 52.60h3.43v1.14h-3.43zM295.29 52.60h2.29v1.14h-2.29zM298.71 52.60h1.14v1.14h-1.14zM301.00 52.60h1.14v1.14h-1.14zM303.29 52.60h1.14v1.14h-1.14zM307.86 52.60h1.14v1.14h-1.14zM310.14 52.60h2.29v1.14h-2.29zM313.57 52.60h3.43v1.14h-3.43zM277.00 53.74h1.14v1.14h-1.14zM283.86 53.74h1.14v1.14h-1.14zM286.14 53.74h3.43v1.14h-3.43zM293.00 53.74h4.57v1.14h-4.57zM298.71 53.74h5.71v1.14h-5.71zM306.71 53.74h3.43v1.14h-3.43zM311.29 53.74h1.14v1.14h-1.14zM314.71 53.74h2.29v1.14h-2.29zM277.00 54.89h1.14v1.14h-1.14zM279.29 54.89h3.43v1.14h-3.43zM283.86 54.89h1.14v1.14h-1.14zM286.14 54.89h4.57v1.14h-4.57zM291.86 54.89h1.14v1.14h-1.14zM296.43 54.89h1.14v1.14h-1.14zM298.71 54.89h2.29v1.14h-2.29zM304.43 54.89h1.14v1.14h-1.14zM306.71 54.89h1.14v1.14h-1.14zM310.14 54.89h5.71v1.14h-5.71zM277.00 56.03h1.14v1.14h-1.14zM279.29 56.03h3.43v1.14h-3.43zM283.86 56.03h1.14v1.14h-1.14zM287.29 56.03h4.57v1.14h-4.57zM293.00 56.03h2.29v1.14h-2.29zM298.71 56.03h2.29v1.14h-2.29zM302.14 56.03h1.14v1.14h-1.14zM304.43 56.03h1.14v1.14h-1.14zM307.86 56.03h2.29v1.14h-2.29zM312.43 56.03h2.29v1.14h-2.29zM277.00 57.17h1.14v1.14h-1.14zM279.29 57.17h3.43v1.14h-3.43zM283.86 57.17h1.14v1.14h-1.14zM287.29 57.17h2.29v1.14h-2.29zM293.00 57.17h1.14v1.14h-1.14zM295.29 57.17h2.29v1.14h-2.29zM299.86 57.17h2.29v1.14h-2.29zM304.43 57.17h1.14v1.14h-1.14zM306.71 57.17h4.57v1.14h-4.57zM313.57 57.17h1.14v1.14h-1.14zM315.86 57.17h1.14v1.14h-1.14zM277.00 58.31h1.14v1.14h-1.14zM283.86 58.31h1.14v1.14h-1.14zM288.43 58.31h1.14v1.14h-1.14zM291.86 58.31h2.29v1.14h-2.29zM295.29 58.31h3.43v1.14h-3.43zM299.86 58.31h1.14v1.14h-1.14zM304.43 58.31h1.14v1.14h-1.14zM306.71 58.31h1.14v1.14h-1.14zM310.14 58.31h1.14v1.14h-1.14zM313.57 58.31h1.14v1.14h-1.14zM277.00 59.46h8.00v1.14h-8.00zM287.29 59.46h1.14v1.14h-1.14zM289.57 59.46h3.43v1.14h-3.43zM295.29 59.46h1.14v1.14h-1.14zM298.71 59.46h1.14v1.14h-1.14zM301.00 59.46h3.43v1.14h-3.43zM309.00 59.46h2.29v1.14h-2.29zM312.43 59.46h1.14v1.14h-1.14zM315.86 59.46h1.14v1.14h-1.14z" fill="#111"/><rect x="290.3" y="35" width="13.6" height="14" fill="#3B5998"/><text x="295" y="48" font-family="Liberation Sans,sans-serif" font-weight="bold" font-size="13" fill="#fff">f</text><ellipse cx="355.7" cy="46.1" rx="9.9" ry="17.3" fill="none" stroke="url(#gd)" stroke-width="4"/><path d="M327.1 26.2Q335 25.6 341.2 21.6L342.8 21.6L338.6 52.5Q338.2 56 342.6 56.6L342.4 57.6L328.6 57.6L328.8 56.6Q333 56 333.6 52.5L337 28.2Q332 29.4 327.3 27.6z" fill="url(#gd)"/><rect x="345.2" y="41" width="36" height="13" fill="#fff"/><text x="346.2" y="50.9" font-family="Liberation Sans,sans-serif" font-size="11.8" fill="#EBB43A" textLength="34" lengthAdjust="spacingAndGlyphs">ILMSM</text><text x="347" y="53.6" font-family="Liberation Sans,sans-serif" font-size="1.9" fill="#EBB43A" textLength="30" lengthAdjust="spacingAndGlyphs">INSTITUT LATIHAN STATISTIK MALAYSIA</text><text x="367.4" y="58.2" font-family="Liberation Sans,sans-serif" font-size="2.2" fill="#EBB43A" textLength="11.5" lengthAdjust="spacingAndGlyphs">2012-2022</text><text x="344" y="29" font-family="Liberation Serif,serif" font-style="italic" font-size="8.5" fill="#EBB43A" transform="rotate(-14 344 29)" textLength="18" lengthAdjust="spacingAndGlyphs">tahun</text><path d="M389.8 42.4Q390 35 399.4 33.2Q393.6 36.4 392.6 42.4z" fill="#1F62B8"/><path d="M389.9 43.2Q391 48.6 397.6 50.2Q393.4 47.4 392.7 43.2z" fill="#3C9E3F"/><path d="M408.9 25.8L417.1 18.9L425.5 25.8" stroke="#3FA33F" stroke-width="1.5" fill="none"/><text x="398.6" y="42.9" font-family="Liberation Sans,sans-serif" font-weight="bold" font-size="20.8" fill="url(#hb)" stroke="url(#hb)" stroke-width="0.9" textLength="39.0" lengthAdjust="spacingAndGlyphs">HIES</text><text x="398.6" y="61.2" font-family="Liberation Sans,sans-serif" font-weight="bold" font-size="21" fill="url(#hg)" stroke="url(#hg)" stroke-width="0.9" textLength="24.0" lengthAdjust="spacingAndGlyphs">BA</text><text x="426.4" y="51.8" font-family="Liberation Sans,sans-serif" font-weight="bold" font-size="8.4" fill="#2D4FA5" stroke="#2D4FA5" stroke-width="0.4" textLength="10.6" lengthAdjust="spacingAndGlyphs">20</text><text x="426.4" y="60.4" font-family="Liberation Sans,sans-serif" font-weight="bold" font-size="8.4" fill="#2D4FA5" stroke="#2D4FA5" stroke-width="0.4" textLength="10.6" lengthAdjust="spacingAndGlyphs">22</text><g transform="translate(472.1 43.65) scale(1 1.1) translate(-472.1 -43.65)"><path d="M474.56 30.99A12.9 12.9 0 0 1 484.99 44.10" stroke="#EE2A2E" stroke-width="4.3" fill="none"/><path d="M484.99 44.10A12.9 12.9 0 0 1 471.54 56.54" stroke="#FFF02A" stroke-width="4.3" fill="none"/><path d="M471.54 56.54A12.9 12.9 0 0 1 459.33 45.45" stroke="#2E54B8" stroke-width="4.3" fill="none"/><path d="M480.17 28.46A17.2 17.2 0 1 1 455.16 40.66" stroke="#4A55B0" stroke-width="1.8" fill="none" stroke-dasharray="0.7 0.5" opacity="0.75"/></g><path d="M452.3 28.7L459.5 37.2L463 16.1L468.7 16.7L462.4 44.4L460.5 44.7L450.7 35.3z" fill="url(#tl)"/><path d="M466.8 29H471.8L468 46.3L463 46z" fill="url(#tl)"/><path d="M471.2 36.2H476.2L474 48.5L469 48.2z" fill="url(#tl)"/><path d="M463 16.1L468.7 16.7L465.3 31.5H460.45z" fill="#9bd3d4"/><path d="M466.8 29H471.8L470.35 35.6H465.3z" fill="#9bd3d4"/><path d="M471.2 36.2H476.2L475.2 41.6H470.2z" fill="#9bd3d4"/><path d="M521.94 22.41A19.4 19.4 0 0 1 527.51 23.45L524.97 30.83A11.6 11.6 0 0 0 521.65 30.21z" fill="#E5243B"/><path d="M528.90 23.99A19.4 19.4 0 0 1 533.71 26.97L528.68 32.93A11.6 11.6 0 0 0 525.80 31.15z" fill="#DDA63A"/><path d="M534.81 27.98A19.4 19.4 0 0 1 538.22 32.49L531.38 36.23A11.6 11.6 0 0 0 529.34 33.53z" fill="#4C9F38"/><path d="M538.89 33.83A19.4 19.4 0 0 1 540.43 39.27L532.70 40.29A11.6 11.6 0 0 0 531.77 37.03z" fill="#C5192D"/><path d="M540.57 40.75A19.4 19.4 0 0 1 540.05 46.39L532.47 44.54A11.6 11.6 0 0 0 532.78 41.17z" fill="#FF3A21"/><path d="M539.64 47.82A19.4 19.4 0 0 1 537.12 52.89L530.72 48.43A11.6 11.6 0 0 0 532.23 45.40z" fill="#26BDE2"/><path d="M536.22 54.08A19.4 19.4 0 0 1 532.04 57.89L527.68 51.42A11.6 11.6 0 0 0 530.18 49.14z" fill="#FCC30B"/><path d="M530.77 58.67A19.4 19.4 0 0 1 525.49 60.72L523.77 53.11A11.6 11.6 0 0 0 526.92 51.89z" fill="#A21942"/><path d="M524.03 60.99A19.4 19.4 0 0 1 518.37 60.99L519.51 53.28A11.6 11.6 0 0 0 522.89 53.28z" fill="#FD6925"/><path d="M516.91 60.72A19.4 19.4 0 0 1 511.63 58.67L515.48 51.89A11.6 11.6 0 0 0 518.63 53.11z" fill="#DD1367"/><path d="M510.36 57.89A19.4 19.4 0 0 1 506.18 54.08L512.22 49.14A11.6 11.6 0 0 0 514.72 51.42z" fill="#FD9D24"/><path d="M505.28 52.89A19.4 19.4 0 0 1 502.76 47.82L510.17 45.40A11.6 11.6 0 0 0 511.68 48.43z" fill="#BF8B2E"/><path d="M502.35 46.39A19.4 19.4 0 0 1 501.83 40.75L509.62 41.17A11.6 11.6 0 0 0 509.93 44.54z" fill="#3F7E44"/><path d="M501.97 39.27A19.4 19.4 0 0 1 503.51 33.83L510.63 37.03A11.6 11.6 0 0 0 509.70 40.29z" fill="#0A97D9"/><path d="M504.18 32.49A19.4 19.4 0 0 1 507.59 27.98L513.06 33.53A11.6 11.6 0 0 0 511.02 36.23z" fill="#56C02B"/><path d="M508.69 26.97A19.4 19.4 0 0 1 513.50 23.99L516.60 31.15A11.6 11.6 0 0 0 513.72 32.93z" fill="#00689D"/><path d="M514.89 23.45A19.4 19.4 0 0 1 520.46 22.41L520.75 30.21A11.6 11.6 0 0 0 517.43 30.83z" fill="#19486A"/><text x="512.6" y="37.6" font-family="Liberation Sans,sans-serif" font-weight="bold" font-size="2.4" fill="#5AB4E5" textLength="17" lengthAdjust="spacingAndGlyphs">SUSTAINABLE</text><text x="512.6" y="40.2" font-family="Liberation Sans,sans-serif" font-weight="bold" font-size="2.4" fill="#5AB4E5" textLength="17" lengthAdjust="spacingAndGlyphs">DEVELOPMENT</text><text x="512.6" y="44.4" font-family="Liberation Sans,sans-serif" font-weight="bold" font-size="4.8" fill="#5AB4E5" textLength="17" lengthAdjust="spacingAndGlyphs">GOALS</text><text x="512.6" y="47.6" font-family="Liberation Sans,sans-serif" font-weight="bold" font-size="3" fill="#C5192D" textLength="17" lengthAdjust="spacingAndGlyphs">MALAYSIA</text><text x="562" y="28.3" font-family="Liberation Sans,sans-serif" font-weight="bold" font-size="11.2" fill="#111" textLength="85.2" lengthAdjust="spacingAndGlyphs">@StatsMalaysia</text><rect x="566" y="32.1" width="16.6" height="17.7" rx="1.6" fill="#111"/><rect x="586.4" y="32.1" width="16.6" height="17.7" rx="1.6" fill="#111"/><rect x="606.5" y="32.1" width="16.6" height="17.7" rx="1.6" fill="#111"/><rect x="626.6" y="32.1" width="16.6" height="17.7" rx="1.6" fill="#111"/><rect x="569.8" y="36.4" width="9" height="9" rx="2.4" fill="none" stroke="#fff" stroke-width="1.2"/><circle cx="574.3" cy="40.9" r="2.2" fill="none" stroke="#fff" stroke-width="1.1"/><circle cx="577" cy="38.2" r="0.6" fill="#fff"/><path d="M596.4 47.4V41.6H594.4V39.2H596.4V37.4Q596.4 34.6 599.4 34.6H601.2V37H600Q598.9 37 598.9 38V39.2H601.1L600.8 41.6H598.9V47.4z" fill="#fff"/><path d="M609.4 44.6Q613.4 45.2 616.6 42.6Q618.8 40.4 618.6 37.4L619.8 36.2L618.4 36.4L619.4 35.2L617.8 35.6Q616.4 34.4 614.8 35.4Q613.6 36.4 614 37.8Q611.6 37.8 609.8 35.6Q609 37.6 610.4 38.8L609.4 38.6Q609.6 40.2 611 40.8L610.2 40.8Q610.8 42.2 612.2 42.4Q611 43.6 609.4 43.4z" fill="#fff"/><path d="M631.4 36.2L639.4 40.9L631.4 45.6z" fill="#fff"/><rect x="551.7" y="51.8" width="104" height="14.6" fill="#fff" stroke="#4a4a4a" stroke-width="1"/><text x="556" y="62.3" font-family="Liberation Sans,sans-serif" font-weight="bold" font-size="10.6" fill="#111" textLength="95.8" lengthAdjust="spacingAndGlyphs">www.dosm.gov.my</text><g font-family="Liberation Sans,sans-serif" font-weight="bold" fill="#d0d0d0" stroke="#d0d0d0" stroke-width="2.6" opacity="0.7"><text x="674.6" y="41.4" font-size="23" textLength="105.6" lengthAdjust="spacingAndGlyphs">KELUARGA</text><text x="676.4" y="60.9" font-size="22" textLength="99" lengthAdjust="spacingAndGlyphs">MALAYSIA</text></g><text x="660.4" y="40.6" font-family="Liberation Sans,sans-serif" font-weight="bold" font-size="21" fill="#1B2A78" stroke="#1B2A78" stroke-width="1.1" textLength="11.6" lengthAdjust="spacingAndGlyphs">#</text><circle cx="666.2" cy="32" r="2.6" fill="#e6d6cc"/><text x="674.6" y="41" font-family="Liberation Sans,sans-serif" font-weight="bold" font-size="23" fill="url(#cg)" stroke="url(#cg)" stroke-width="1.9" textLength="105.6" lengthAdjust="spacingAndGlyphs">KELUARGA</text><text x="676.4" y="60.5" font-family="Liberation Sans,sans-serif" font-weight="bold" font-size="22" fill="url(#cg)" stroke="url(#cg)" stroke-width="1.9" textLength="99" lengthAdjust="spacingAndGlyphs">MALAYSIA</text></svg>
<div class="card" style="left:203px;top:240px;width:122.2px;height:90.7px"><b></b><i style="left:0;top:0"></i><i style="right:0;top:0"></i><i style="left:0;bottom:0"></i><i style="right:0;bottom:0"></i></div>
<div class="card" style="left:339px;top:240px;width:123px;height:90.7px"><b></b><i style="left:0;top:0"></i><i style="right:0;top:0"></i><i style="left:0;bottom:0"></i><i style="right:0;bottom:0"></i></div>
<div class="card" style="left:203px;top:338px;width:123px;height:90.7px"><b></b><i style="left:0;top:0"></i><i style="right:0;top:0"></i><i style="left:0;bottom:0"></i><i style="right:0;bottom:0"></i></div>
<div class="card" style="left:340px;top:338px;width:123px;height:91.5px"><b></b><i style="left:0;top:0"></i><i style="right:0;top:0"></i><i style="left:0;bottom:0"></i><i style="right:0;bottom:0"></i></div>
<div class="b" style="left:497.2px;top:259.2px;width:238.4px;height:148.6px;background:#465EC4;"></div>
<div class="b" style="left:4px;top:501px;width:786px;height:204px;background:#fff;box-sizing:border-box;border:1px solid #c4c4c4;"></div>
<svg width="794" height="983" viewBox="0 0 794 983" style="left:0;top:0"><rect x="206.8" y="533.6" width="22.9" height="137.6" fill="#e8e8e8"/><rect x="279.1" y="533.6" width="24.7" height="137.6" fill="#e8e8e8"/><rect x="437.9" y="533.6" width="29.0" height="137.6" fill="#e8e8e8"/><rect x="715.3" y="533.6" width="34.2" height="137.6" fill="#e8e8e8"/><path d="M48.5 602.4V597.0M50.5 602.4V596.9M52.5 602.4V597.2M54.5 602.4V598.3M56.5 602.4V599.7M58.5 602.4V601.5M60.5 602.4V604.2M61.5 602.4V608.1M63.5 602.4V612.4M71.5 602.4V628.3M73.5 602.4V630.8M75.5 602.4V633.0M77.5 602.4V634.9M79.5 602.4V636.7M81.5 602.4V638.3M82.5 602.4V639.7M84.5 602.4V641.2M92.5 602.4V640.1M94.5 602.4V637.3M96.5 602.4V633.7M98.5 602.4V629.6M100.5 602.4V624.8M102.5 602.4V619.4M104.5 602.4V614.3M105.5 602.4V610.0M107.5 602.4V605.7M115.5 602.4V585.5M117.5 602.4V582.5M119.5 602.4V579.8M121.5 602.4V577.3M123.5 602.4V574.8M125.5 602.4V572.4M126.5 602.4V570.5M128.5 602.4V568.6M136.5 602.4V568.9M138.5 602.4V570.2M140.5 602.4V571.4M142.5 602.4V571.7M144.5 602.4V571.1M146.5 602.4V570.2M148.5 602.4V569.2M149.5 602.4V568.6M151.5 602.4V568.7M159.5 602.4V570.7M161.5 602.4V570.7M163.5 602.4V570.7M165.5 602.4V570.7M167.5 602.4V570.7M169.5 602.4V570.7M170.5 602.4V569.6M172.5 602.4V567.0M180.5 602.4V559.0M182.5 602.4V557.7M184.5 602.4V557.1M186.5 602.4V557.6M188.5 602.4V559.1M190.5 602.4V561.3M192.5 602.4V565.0M193.5 602.4V569.2M195.5 602.4V574.5M203.5 602.4V608.9M205.5 602.4V617.4M207.5 602.4V626.0M209.5 602.4V633.7M211.5 602.4V640.7M213.5 602.4V646.3M214.5 602.4V650.8M216.5 602.4V654.1M224.5 602.4V655.2M226.5 602.4V653.0M228.5 602.4V649.8M230.5 602.4V645.9M232.5 602.4V641.5M234.5 602.4V636.0M236.5 602.4V630.1M237.5 602.4V624.3M239.5 602.4V618.2M247.5 602.4V602.1M249.5 602.4V598.5M251.5 602.4V595.3M253.5 602.4V592.4M255.5 602.4V590.2M257.5 602.4V588.4M258.5 602.4V586.9M260.5 602.4V586.3M268.5 602.4V593.4M270.5 602.4V596.5M272.5 602.4V599.1M274.5 602.4V601.9M276.5 602.4V605.1M278.5 602.4V608.9M280.5 602.4V613.9M281.5 602.4V617.8M283.5 602.4V619.5M291.5 602.4V618.0M293.5 602.4V616.8M295.5 602.4V615.4M297.5 602.4V613.9M299.5 602.4V612.2M301.5 602.4V610.4M302.5 602.4V608.9M304.5 602.4V607.6M312.5 602.4V609.2M314.5 602.4V610.7M316.5 602.4V612.5M318.5 602.4V614.4M320.5 602.4V616.0M322.5 602.4V617.6M324.5 602.4V619.0M325.5 602.4V619.9M327.5 602.4V619.8M335.5 602.4V611.7M337.5 602.4V608.4M339.5 602.4V605.7M341.5 602.4V603.0M343.5 602.4V600.1M345.5 602.4V597.3M346.5 602.4V594.9M348.5 602.4V593.5M356.5 602.4V596.3M358.5 602.4V597.2M360.5 602.4V598.2M362.5 602.4V599.0M364.5 602.4V599.3M366.5 602.4V599.2M368.5 602.4V598.8M369.5 602.4V598.4M371.5 602.4V598.3M379.5 602.4V599.1M381.5 602.4V599.5M383.5 602.4V600.2M385.5 602.4V601.0M387.5 602.4V601.7M389.5 602.4V602.2M390.5 602.4V602.9M392.5 602.4V603.4M400.5 602.4V602.9M402.5 602.4V602.2M404.5 602.4V600.5M406.5 602.4V598.2M408.5 602.4V595.1M410.5 602.4V591.6M412.5 602.4V587.7M413.5 602.4V584.8M415.5 602.4V582.6M423.5 602.4V580.4M425.5 602.4V580.1M427.5 602.4V579.7M429.5 602.4V579.4M431.5 602.4V578.9M433.5 602.4V577.9M434.5 602.4V577.1M436.5 602.4V578.0M444.5 602.4V595.6M446.5 602.4V600.5M448.5 602.4V606.0M450.5 602.4V612.4M452.5 602.4V618.6M454.5 602.4V624.4M456.5 602.4V629.6M457.5 602.4V633.7M459.5 602.4V635.9M467.5 602.4V621.4M469.5 602.4V617.3M471.5 602.4V613.6M473.5 602.4V610.8M475.5 602.4V608.6M477.5 602.4V607.1M478.5 602.4V606.2M480.5 602.4V605.5M488.5 602.4V604.1M490.5 602.4V603.8M492.5 602.4V603.4M494.5 602.4V603.0M496.5 602.4V602.4M498.5 602.4V601.4M499.5 602.4V600.2M501.5 602.4V599.1M503.5 602.4V599.4M511.5 602.4V604.6M513.5 602.4V605.8M515.5 602.4V606.7M517.5 602.4V606.8M519.5 602.4V605.9M521.5 602.4V604.9M522.5 602.4V603.7M524.5 602.4V602.5M532.5 602.4V600.7M534.5 602.4V601.4M536.5 602.4V601.9M538.5 602.4V602.7M540.5 602.4V603.8M542.5 602.4V605.2M543.5 602.4V606.7M545.5 602.4V606.5M553.5 602.4V596.2M555.5 602.4V594.0M557.5 602.4V592.3M559.5 602.4V590.8M561.5 602.4V590.0M563.5 602.4V590.3M565.5 602.4V591.1M566.5 602.4V591.9M568.5 602.4V592.8M576.5 602.4V592.5M578.5 602.4V591.9M580.5 602.4V591.1M582.5 602.4V590.3M584.5 602.4V589.5M586.5 602.4V588.8M587.5 602.4V588.1M589.5 602.4V587.4M597.5 602.4V586.5M599.5 602.4V587.3M601.5 602.4V588.2M603.5 602.4V589.4M605.5 602.4V590.8M607.5 602.4V592.3M609.5 602.4V593.8M610.5 602.4V595.3M612.5 602.4V596.8M620.5 602.4V603.6M622.5 602.4V605.4M624.5 602.4V607.0M626.5 602.4V608.6M628.5 602.4V610.0M630.5 602.4V610.9M631.5 602.4V611.7M633.5 602.4V612.3M641.5 602.4V610.3M643.5 602.4V609.2M645.5 602.4V607.6M647.5 602.4V606.0M649.5 602.4V604.5M651.5 602.4V603.0M653.5 602.4V601.6M654.5 602.4V600.3M656.5 602.4V599.0M664.5 602.4V597.1M666.5 602.4V598.4M668.5 602.4V600.0M670.5 602.4V602.0M672.5 602.4V604.6M674.5 602.4V607.6M675.5 602.4V610.4M677.5 602.4V613.0M685.5 602.4V620.3M687.5 602.4V620.9M689.5 602.4V621.4M691.5 602.4V621.8M693.5 602.4V621.8M695.5 602.4V621.6M697.5 602.4V621.3M698.5 602.4V621.0M700.5 602.4V621.2M708.5 602.4V625.2M710.5 602.4V627.0M712.5 602.4V628.8M714.5 602.4V630.7M716.5 602.4V631.1M718.5 602.4V628.1M719.5 602.4V622.8M721.5 602.4V611.5M729.5 602.4V583.1M731.5 602.4V580.6M733.5 602.4V578.7M735.5 602.4V578.4M737.5 602.4V579.7M739.5 602.4V581.6M741.5 602.4V584.6M742.5 602.4V588.2M744.5 602.4V592.7M752.5 602.4V598.8M754.5 602.4V596.8M756.5 602.4V594.7M758.5 602.4V592.9M760.5 602.4V591.1M762.5 602.4V590.3M763.5 602.4V590.7M765.5 602.4V591.9M773.5 602.4V597.1" stroke="#465EC4" stroke-width="1.12" fill="none"/><path d="M66.0 602.4V617.4M68.0 602.4V622.0M70.0 602.4V625.4M87.0 602.4V642.5M89.0 602.4V643.1M91.0 602.4V642.2M110.0 602.4V600.4M112.0 602.4V594.0M114.0 602.4V589.3M131.0 602.4V567.0M133.0 602.4V566.2M135.0 602.4V567.0M154.0 602.4V569.4M156.0 602.4V570.2M158.0 602.4V570.7M175.0 602.4V564.8M177.0 602.4V562.5M179.0 602.4V560.4M198.0 602.4V581.0M200.0 602.4V589.1M202.0 602.4V599.8M219.0 602.4V656.3M221.0 602.4V657.5M223.0 602.4V657.0M242.0 602.4V613.0M244.0 602.4V609.0M246.0 602.4V605.5M263.0 602.4V587.0M265.0 602.4V588.4M267.0 602.4V590.4M286.0 602.4V620.3M288.0 602.4V620.0M290.0 602.4V619.0M307.0 602.4V606.7M309.0 602.4V606.7M311.0 602.4V607.8M330.0 602.4V618.9M332.0 602.4V617.4M334.0 602.4V615.2M351.0 602.4V593.1M353.0 602.4V593.8M355.0 602.4V595.1M374.0 602.4V598.3M376.0 602.4V598.5M378.0 602.4V598.8M395.0 602.4V603.4M397.0 602.4V603.3M399.0 602.4V603.2M418.0 602.4V581.5M420.0 602.4V581.0M422.0 602.4V580.7M439.0 602.4V580.1M441.0 602.4V583.8M443.0 602.4V589.2M462.0 602.4V633.9M464.0 602.4V630.3M466.0 602.4V626.0M483.0 602.4V605.0M485.0 602.4V604.6M487.0 602.4V604.4M506.0 602.4V600.8M508.0 602.4V602.3M510.0 602.4V603.5M527.0 602.4V601.3M529.0 602.4V600.3M531.0 602.4V600.1M548.0 602.4V604.7M550.0 602.4V602.6M552.0 602.4V599.2M571.0 602.4V593.4M573.0 602.4V593.5M575.0 602.4V593.1M592.0 602.4V586.8M594.0 602.4V586.3M596.0 602.4V586.2M615.0 602.4V598.4M617.0 602.4V600.1M619.0 602.4V601.9M636.0 602.4V612.4M638.0 602.4V612.0M640.0 602.4V611.2M659.0 602.4V597.5M661.0 602.4V596.4M663.0 602.4V596.3M680.0 602.4V615.2M682.0 602.4V617.3M684.0 602.4V619.1M703.0 602.4V621.8M705.0 602.4V622.8M707.0 602.4V623.9M724.0 602.4V598.6M726.0 602.4V592.4M728.0 602.4V587.2M747.0 602.4V597.3M749.0 602.4V601.3M751.0 602.4V600.5M768.0 602.4V593.1M770.0 602.4V594.3M772.0 602.4V595.7" stroke="#465EC4" stroke-width="2.05" fill="none"/><path d="M47.6 602.4H774.5" stroke="#868686" stroke-width="1"/><path d="M47.60 602.4v-3.5M59.07 602.4v3.5M70.55 602.4v-3.5M82.02 602.4v3.5M93.50 602.4v-3.5M104.97 602.4v3.5M116.45 602.4v-3.5M127.92 602.4v3.5M139.40 602.4v-3.5M150.87 602.4v3.5M162.35 602.4v-3.5M173.82 602.4v3.5M185.30 602.4v-3.5M196.77 602.4v3.5M208.25 602.4v-3.5M219.72 602.4v3.5M231.20 602.4v-3.5M242.67 602.4v3.5M254.15 602.4v-3.5M265.62 602.4v3.5M277.10 602.4v-3.5M288.57 602.4v3.5M300.05 602.4v-3.5M311.52 602.4v3.5M323.00 602.4v-3.5M334.47 602.4v3.5M345.95 602.4v-3.5M357.42 602.4v3.5M368.90 602.4v-3.5M380.37 602.4v3.5M391.85 602.4v-3.5M403.32 602.4v3.5M414.80 602.4v-3.5M426.27 602.4v3.5M437.75 602.4v-3.5M449.22 602.4v3.5M460.70 602.4v-3.5M472.17 602.4v3.5M483.65 602.4v-3.5M495.12 602.4v3.5M506.60 602.4v-3.5M518.07 602.4v3.5M529.55 602.4v-3.5M541.02 602.4v3.5M552.50 602.4v-3.5M563.97 602.4v3.5M575.45 602.4v-3.5M586.92 602.4v3.5M598.40 602.4v-3.5M609.87 602.4v3.5M621.35 602.4v-3.5M632.82 602.4v3.5M644.30 602.4v-3.5M655.77 602.4v3.5M667.25 602.4v-3.5M678.72 602.4v3.5M690.20 602.4v-3.5M701.67 602.4v3.5M713.15 602.4v-3.5M724.62 602.4v3.5M736.10 602.4v-3.5M747.57 602.4v3.5M759.05 602.4v-3.5M770.52 602.4v3.5" stroke="#868686" stroke-width="0.9"/><rect x="47.6" y="533.6" width="726.9" height="137.6" fill="none" stroke="#000" stroke-width="1.1"/></svg>
<div class="b" style="left:0px;top:749px;width:13.1px;height:208px;background:#4F81BD;"></div>
<div class="b" style="left:182px;top:737px;width:611px;height:48.5px;background:#E9E9FF;"></div>
<div class="b" style="left:13.1px;top:900.8px;width:60.7px;height:42.9px;background:#E9E9FF;"></div>
<div class="b" style="left:365px;top:864px;width:425px;height:117.5px;background:#E9E9FF;border-radius:0 16px 13px 18px;"></div>
<div class="b" style="left:0px;top:943.7px;width:639.3px;height:13.3px;background:#4F81BD;"></div>
<div class="b" style="left:4.3px;top:710px;width:177.6px;height:79.4px;background:#465EC4;border-radius:10px;"></div>
<div class="b" style="left:11.3px;top:715.6px;width:83.2px;height:68.3px;background:#E9E9FF;border-radius:9px;"></div>
<svg width="794" height="983" viewBox="0 0 794 983" style="left:0;top:0"><rect x="34.95" y="802.25" width="97.10" height="103.5" rx="11.3" fill="#fff" stroke="#4F81BD" stroke-width="1.9"/><path d="M40.3 854.2H128V892.6Q128 901.6 119 901.6H49.3Q40.3 901.6 40.3 892.6z" fill="#4F81BD"/><rect x="36.30" y="914.3" width="94.90" height="23.9" rx="11.95" fill="none" stroke="#4F81BD" stroke-width="3"/><rect x="141.05" y="802.25" width="97.10" height="103.5" rx="11.3" fill="#fff" stroke="#4F81BD" stroke-width="1.9"/><path d="M145.6 854.2H233.8V892.6Q233.8 901.6 224.8 901.6H154.6Q145.6 901.6 145.6 892.6z" fill="#4F81BD"/><rect x="142.10" y="914.3" width="96.00" height="23.9" rx="11.95" fill="none" stroke="#4F81BD" stroke-width="3"/><rect x="247.25" y="802.25" width="96.80" height="103.5" rx="11.3" fill="#fff" stroke="#4F81BD" stroke-width="1.9"/><path d="M251.3 853.0H340V892.6Q340 901.6 331 901.6H260.3Q251.3 901.6 251.3 892.6z" fill="#4F81BD"/><rect x="248.30" y="914.3" width="94.70" height="23.9" rx="11.95" fill="none" stroke="#4F81BD" stroke-width="3"/><rect x="357.25" y="802.25" width="96.80" height="103.5" rx="11.3" fill="#fff" stroke="#4F81BD" stroke-width="1.9"/><path d="M361.3 854.2H449V892.6Q449 901.6 440 901.6H370.3Q361.3 901.6 361.3 892.6z" fill="#4F81BD"/><rect x="358.30" y="914.3" width="94.70" height="23.9" rx="11.95" fill="none" stroke="#4F81BD" stroke-width="3"/><rect x="465.45" y="802.25" width="96.90" height="103.5" rx="11.3" fill="#fff" stroke="#4F81BD" stroke-width="1.9"/><path d="M469.3 854.2H557.7V892.6Q557.7 901.6 548.7 901.6H478.3Q469.3 901.6 469.3 892.6z" fill="#4F81BD"/><rect x="466.50" y="914.3" width="95.30" height="23.9" rx="11.95" fill="none" stroke="#4F81BD" stroke-width="3"/><rect x="572.55" y="802.25" width="96.10" height="103.5" rx="11.3" fill="#fff" stroke="#4F81BD" stroke-width="1.9"/><path d="M576.4 854.2H664V892.6Q664 901.6 655 901.6H585.4Q576.4 901.6 576.4 892.6z" fill="#4F81BD"/><rect x="573.60" y="914.3" width="94.50" height="23.9" rx="11.95" fill="none" stroke="#4F81BD" stroke-width="3"/><rect x="677.35" y="802.25" width="97.10" height="103.5" rx="11.3" fill="#fff" stroke="#4F81BD" stroke-width="1.9"/><path d="M681.4 854.2H769.8V892.6Q769.8 901.6 760.8 901.6H690.4Q681.4 901.6 681.4 892.6z" fill="#4F81BD"/><rect x="678.60" y="914.3" width="95.30" height="23.9" rx="11.95" fill="none" stroke="#4F81BD" stroke-width="3"/></svg>
<svg width="794" height="983" viewBox="0 0 794 983" style="left:0;top:0"><path d="M69.4 823.6H95.4Q96.9 823.6 96.9 825.1V830.2H87.2Q84.2 830.2 84.2 833.2V835.8Q84.2 838.8 87.2 838.8H96.9V842Q96.9 843.5 95.4 843.5H69.4Q65.9 843.5 65.9 840V826.6Q65.9 823.6 69.4 823.6z" fill="#3A62A0"/><path d="M66.2 826.5Q66.6 822.8 71.6 822.2L72.6 823.8z" fill="#3A62A0"/><path d="M86.6 831.6H96.9V837.4H86.6Q85.6 837.4 85.6 836.4V832.6Q85.6 831.6 86.6 831.6z" fill="#3A62A0"/><circle cx="87.9" cy="834.5" r="1" fill="#fff"/><path d="M76.6 824.4L87.2 814.8L102.4 821.2L96.8 827.4" fill="none" stroke="#3A62A0" stroke-width="1.7" stroke-linejoin="round"/><ellipse cx="183.8" cy="826" rx="13.8" ry="12.2" fill="none" stroke="#3A62A0" stroke-width="2"/><path d="M195 835.6L204.8 841.4" stroke="#3A62A0" stroke-width="4.8" stroke-linecap="round"/><path d="M175.4 820.6V832.7H195.2" fill="none" stroke="#3A62A0" stroke-width="1"/><path d="M177.8 824.6V832.4M181.6 826.6V832.4M186.8 825.2V832.4M192 821.6V832.4" stroke="#3A62A0" stroke-width="2.7"/><path d="M177.8 823.4L181.6 825.4L186.8 823.8L192 819.8" fill="none" stroke="#3A62A0" stroke-width="0.8"/><path d="M279.6 842.2L310.8 816.2" stroke="#3A62A0" stroke-width="2.4" stroke-linecap="round"/><ellipse cx="295.1" cy="828.8" rx="12.6" ry="8.6" fill="#3A62A0" transform="rotate(-16 295.1 828.8)"/><path d="M285.6 820.4L304.6 836.2" stroke="#fff" stroke-width="2.8"/><path d="M285.6 820.4L304.6 836.2" stroke="#3A62A0" stroke-width="0.8"/><g transform="rotate(-44 409.4 828.6)"><rect x="390.2" y="821.1" width="38.4" height="15" rx="4" fill="#3A62A0"/><rect x="414.8" y="824" width="10" height="7" rx="1.6" fill="#fff"/><path d="M417.4 827.6H422.4M420.4 825.8L418.8 829.2" stroke="#3A62A0" stroke-width="0.7"/><path d="M394 822V835.2" stroke="#6d8cc0" stroke-width="0.7"/></g><path d="M513 814L519.8 819.2V815.9H524.7V823L528.8 826.1V829.9H526.9V843.5H499V829.9H497.1V826.1z" fill="#3A62A0"/><path d="M513.2 819L524.8 828V841.4H501.1V828z" fill="#fff"/><rect x="505" y="829.2" width="6.8" height="12.4" fill="#3A62A0"/><rect x="514.3" y="829.3" width="7.6" height="7.4" fill="#3A62A0"/><circle cx="607.5" cy="822" r="2.2" fill="#3A62A0"/><path d="M603.6 825H609Q610.2 825 610.4 825.6L615.6 823.6L616 824.8L610.2 827.4V843.5H607.8V834.6H606.6V843.5H604.2V834.4H603.6V834.4H602.2V826.4Q602.2 825 603.6 825z" fill="#3A62A0"/><path d="M613.4 817.7H635.8" stroke="#3A62A0" stroke-width="2.5" stroke-linecap="round"/><path d="M614.9 819V825.6M614.9 829V831.4Q614.9 832.4 615.9 832.4H634.1Q635.1 832.4 635.1 831.4V819" fill="none" stroke="#3A62A0" stroke-width="1.4"/><path d="M619 821.2L621.8 823.8M621.8 821.2L619 823.8" stroke="#3A62A0" stroke-width="0.9"/><path d="M621.8 829.2Q623.4 823.4 629.8 822" fill="none" stroke="#3A62A0" stroke-width="1.1"/><circle cx="629.8" cy="822" r="1" fill="#3A62A0"/><circle cx="628.3" cy="827.4" r="1.9" fill="none" stroke="#3A62A0" stroke-width="1"/><path d="M625.1 832.6V843.5M625.1 838.2L619.8 843.5M625.1 838.2L630.4 843.5" stroke="#3A62A0" stroke-width="1.1"/><path d="M719.3 814H729.8Q731.8 814 731.8 816V843.5H726.1V836.7H723V843.5H717.3V816Q717.3 814 719.3 814z" fill="#3A62A0"/><path d="M708.2 823.2Q708.2 821.2 710.2 821.2H712.4Q712.8 819.3 714.8 819.3H716.9V843.5H708.2z" fill="#3A62A0"/><path d="M740.9 823.2Q740.9 821.2 738.9 821.2H736.7Q736.3 819.3 734.3 819.3H732.2V843.5H740.9z" fill="#3A62A0"/><path d="M720.3 819.2h3.2v2.8h-3.2zM720.3 824.6h3.2v2.8h-3.2zM720.3 830.1h3.2v2.8h-3.2zM725.6 819.2h3.2v2.8h-3.2zM725.6 824.6h3.2v2.8h-3.2zM725.6 830.1h3.2v2.8h-3.2zM711.8 825.2h2.7v2.8h-2.7zM711.8 830.5h2.7v2.8h-2.7zM711.8 836.1h2.7v2.8h-2.7zM735.1 825.2h2.7v2.8h-2.7zM735.1 830.5h2.7v2.8h-2.7zM735.1 836.1h2.7v2.8h-2.7z" fill="#fff"/></svg>
<span class="t" style="left:34.3px;top:57px;font-size:9.78px;line-height:9.78px;color:#ffffff;transform:scaleX(0.9452);">PRIME MINISTER’S  DEPARTMENT</span>
<span class="t" style="left:16.5px;top:70px;font-size:9.78px;line-height:9.78px;color:#ffffff;transform:scaleX(0.9309);">DEPARTMENT  OF  STATISTICS  MALAYSIA</span>
<span class="t" style="left:98.98px;top:90px;font-size:21.65px;line-height:21.65px;color:#000000;transform:scaleX(1.1172);">MALAYSIAN ECONOMIC INDICATORS</span>
<span class="t" style="left:99.02px;top:118px;font-size:21.65px;line-height:21.65px;color:#000000;transform:scaleX(1.0766);">LEADING, COINCIDENT &amp; LAGGING INDEXES,  AUGUST 2022</span>
<span class="t" style="left:293.86px;top:157px;font-size:15.92px;line-height:15.92px;color:#000000;transform:scaleX(0.9415);">MALAYSIA&#x27;S  LEADING  INDEX  FOR AUGUST  2022</span>
<span class="t" style="left:263.67px;top:176px;font-size:15.92px;line-height:15.92px;color:#000000;transform:scaleX(0.9343);">MOVED  IN  AN UPWARD  TREND  TO REACH  111.3  POINTS</span>
<span class="t" style="left:259.6px;top:210px;font-size:13.97px;line-height:13.97px;color:#000000;transform:scaleX(1.014);">Leading  Composite  Index  (2015=100)  and  Annual  Change  (%)</span>
<span class="t" style="left:236.0px;top:249px;font-size:12.57px;line-height:12.57px;color:#0f2167;transform:scaleX(0.9406);">April 2022</span>
<span class="t" style="left:226.7px;top:267px;font-size:28.77px;line-height:28.77px;color:#0f2167;transform:scaleX(1.0004);">-0.5%</span>
<span class="t" style="left:212.0px;top:303px;font-size:9.78px;line-height:9.78px;color:#0f2167;transform:scaleX(0.9984);">Apr. 2022: 110.8 points</span>
<span class="t" style="left:227.0px;top:314px;font-size:7.26px;line-height:7.26px;color:#0f2167;transform:scaleX(0.9815);">Apr. 2021: 111.4 points</span>
<span class="t" style="left:372.8px;top:248px;font-size:12.57px;line-height:12.57px;color:#0f2167;transform:scaleX(0.9116);">June 2022</span>
<span class="t" style="left:370.8px;top:267px;font-size:28.77px;line-height:28.77px;color:#0f2167;transform:scaleX(0.9694);">5.3%</span>
<span class="t" style="left:347.6px;top:302px;font-size:9.78px;line-height:9.78px;color:#0f2167;transform:scaleX(0.9768);">June 2022: 111.7 points</span>
<span class="t" style="left:362.7px;top:313px;font-size:7.26px;line-height:7.26px;color:#0f2167;transform:scaleX(0.9501);">June 2021: 106.1 points</span>
<span class="t" style="left:238.3px;top:347px;font-size:12.57px;line-height:12.57px;color:#0f2167;transform:scaleX(0.9698);">May 2022</span>
<span class="t" style="left:233.82px;top:366px;font-size:28.77px;line-height:28.77px;color:#0f2167;transform:scaleX(0.9846);">2.3%</span>
<span class="t" style="left:213.4px;top:402px;font-size:9.78px;line-height:9.78px;color:#0f2167;transform:scaleX(0.9968);">May 2022: 111.3 points</span>
<span class="t" style="left:227.0px;top:413px;font-size:7.26px;line-height:7.26px;color:#0f2167;transform:scaleX(0.9803);">May 2021: 108.8 points</span>
<span class="t" style="left:376.9px;top:345px;font-size:12.57px;line-height:12.57px;color:#0f2167;transform:scaleX(0.9066);">July 2022</span>
<span class="t" style="left:372.3px;top:364px;font-size:28.77px;line-height:28.77px;color:#0f2167;transform:scaleX(0.9694);">4.1%</span>
<span class="t" style="left:351.9px;top:399px;font-size:9.78px;line-height:9.78px;color:#0f2167;transform:scaleX(0.9658);">July 2022: 109.5 points</span>
<span class="t" style="left:366.0px;top:411px;font-size:7.26px;line-height:7.26px;color:#0f2167;transform:scaleX(0.9474);">July 2021: 105.2 points</span>
<span class="t" style="left:554.5px;top:275px;font-size:18.72px;line-height:18.72px;color:#ffffff;transform:scaleX(1.1019);">August 2022</span>
<span class="t" style="left:572.8px;top:304px;font-size:36.31px;line-height:36.31px;color:#ffffff;transform:scaleX(1.0405);">4.0%</span>
<span class="t" style="left:498.2px;top:349px;font-size:19.13px;line-height:19.13px;color:#ffffff;transform:scaleX(1.1199);">Aug. 2022: 111.3 points</span>
<span class="t" style="left:521.8px;top:378px;font-size:15.92px;line-height:15.92px;color:#ffffff;transform:scaleX(1.041);">Aug. 2021: 107.0 points</span>
<span class="t" style="left:209.6px;top:436px;font-size:9.92px;line-height:9.92px;color:#1a1a1a;transform:scaleX(1.1401);font-weight:normal;letter-spacing:0.248px;">Note: Economic direction forecast by Leading Composite Index in average of 4 to 6 months ahead</span>
<span class="t" style="left:114.88px;top:459px;font-size:16.06px;line-height:16.06px;color:#000000;transform:scaleX(1.0202);">Leading Composite  Index (Long Term Trend = 100) and Business  Cycle</span>
<span class="t" style="left:192.6px;top:479px;font-size:16.06px;line-height:16.06px;color:#000000;transform:scaleX(1.0182);">(Grey  Shaded Areas),  January 1991 to  August 2022</span>
<span class="t" style="left:15.6px;top:510px;font-size:10.47px;line-height:10.47px;color:#000000;transform:scaleX(1.0792);">Index</span>
<span class="t" style="left:23.2px;top:526px;font-size:10.47px;line-height:10.47px;color:#000000;transform:scaleX(0.9841);font-weight:normal;-webkit-text-stroke:0.45px #000000;">110</span>
<span class="t" style="left:23.2px;top:563px;font-size:10.47px;line-height:10.47px;color:#000000;transform:scaleX(0.9408);font-weight:normal;-webkit-text-stroke:0.45px #000000;">105</span>
<span class="t" style="left:23.2px;top:599px;font-size:10.47px;line-height:10.47px;color:#000000;transform:scaleX(0.9408);font-weight:normal;-webkit-text-stroke:0.45px #000000;">100</span>
<span class="t" style="left:29.0px;top:634px;font-size:10.47px;line-height:10.47px;color:#000000;transform:scaleX(0.9135);font-weight:normal;-webkit-text-stroke:0.45px #000000;">95</span>
<span class="t" style="left:29.0px;top:670px;font-size:10.47px;line-height:10.47px;color:#000000;transform:scaleX(0.9135);font-weight:normal;-webkit-text-stroke:0.45px #000000;">90</span>
<span class="t" style="left:178.9px;top:509px;font-size:10.47px;line-height:10.47px;color:#000000;transform:scaleX(1.072);">Peak</span>
<span class="t" style="left:178.4px;top:522px;font-size:10.47px;line-height:10.47px;color:#000000;transform:scaleX(1.0692);">12/97</span>
<span class="t" style="left:212.4px;top:509px;font-size:10.47px;line-height:10.47px;color:#000000;transform:scaleX(1.0349);">Trough</span>
<span class="t" style="left:216.7px;top:522px;font-size:10.47px;line-height:10.47px;color:#000000;transform:scaleX(1.0737);">11/98</span>
<span class="t" style="left:258.2px;top:509px;font-size:10.47px;line-height:10.47px;color:#000000;transform:scaleX(1.0436);">Peak</span>
<span class="t" style="left:259.0px;top:522px;font-size:10.47px;line-height:10.47px;color:#000000;transform:scaleX(1.0655);">2/01</span>
<span class="t" style="left:290.5px;top:509px;font-size:10.47px;line-height:10.47px;color:#000000;transform:scaleX(1.0349);">Trough</span>
<span class="t" style="left:297.3px;top:522px;font-size:10.47px;line-height:10.47px;color:#000000;transform:scaleX(1.1045);">2/02</span>
<span class="t" style="left:410.2px;top:509px;font-size:10.47px;line-height:10.47px;color:#000000;transform:scaleX(1.0517);">Peak</span>
<span class="t" style="left:411.9px;top:522px;font-size:10.47px;line-height:10.47px;color:#000000;transform:scaleX(1.0801);">1/08</span>
<span class="t" style="left:443.4px;top:509px;font-size:10.47px;line-height:10.47px;color:#000000;transform:scaleX(1.0264);">Trough</span>
<span class="t" style="left:450.5px;top:522px;font-size:10.47px;line-height:10.47px;color:#000000;transform:scaleX(1.0753);">3/09</span>
<span class="t" style="left:688.0px;top:509px;font-size:10.47px;line-height:10.47px;color:#000000;transform:scaleX(1.0395);">Peak</span>
<span class="t" style="left:689.2px;top:522px;font-size:10.47px;line-height:10.47px;color:#000000;transform:scaleX(1.1045);">2/20</span>
<span class="t" style="left:722.5px;top:509px;font-size:10.47px;line-height:10.47px;color:#000000;transform:scaleX(1.0406);">Trough</span>
<span class="t" style="left:729.3px;top:522px;font-size:10.47px;line-height:10.47px;color:#000000;transform:scaleX(1.0169);">7/21</span>
<span class="t" style="left:41.3px;top:682px;font-size:10.06px;line-height:10.06px;color:#000000;transform:scaleX(0.9061);font-weight:normal;-webkit-text-stroke:0.45px #000000;">91</span>
<span class="t" style="left:64.5px;top:682px;font-size:10.06px;line-height:10.06px;color:#000000;transform:scaleX(0.9838);font-weight:normal;-webkit-text-stroke:0.45px #000000;">92</span>
<span class="t" style="left:87.49px;top:682px;font-size:10.06px;line-height:10.06px;color:#000000;transform:scaleX(0.9838);font-weight:normal;-webkit-text-stroke:0.45px #000000;">93</span>
<span class="t" style="left:110.49px;top:682px;font-size:10.06px;line-height:10.06px;color:#000000;transform:scaleX(0.9838);font-weight:normal;-webkit-text-stroke:0.45px #000000;">94</span>
<span class="t" style="left:133.48px;top:682px;font-size:10.06px;line-height:10.06px;color:#000000;transform:scaleX(0.9838);font-weight:normal;-webkit-text-stroke:0.45px #000000;">95</span>
<span class="t" style="left:156.48px;top:682px;font-size:10.06px;line-height:10.06px;color:#000000;transform:scaleX(0.9838);font-weight:normal;-webkit-text-stroke:0.45px #000000;">96</span>
<span class="t" style="left:179.47px;top:682px;font-size:10.06px;line-height:10.06px;color:#000000;transform:scaleX(0.9838);font-weight:normal;-webkit-text-stroke:0.45px #000000;">97</span>
<span class="t" style="left:202.47px;top:682px;font-size:10.06px;line-height:10.06px;color:#000000;transform:scaleX(0.9838);font-weight:normal;-webkit-text-stroke:0.45px #000000;">98</span>
<span class="t" style="left:225.46px;top:682px;font-size:10.06px;line-height:10.06px;color:#000000;transform:scaleX(0.9838);font-weight:normal;-webkit-text-stroke:0.45px #000000;">99</span>
<span class="t" style="left:248.46px;top:682px;font-size:10.06px;line-height:10.06px;color:#000000;transform:scaleX(0.9838);font-weight:normal;-webkit-text-stroke:0.45px #000000;">00</span>
<span class="t" style="left:271.25px;top:682px;font-size:10.06px;line-height:10.06px;color:#000000;transform:scaleX(0.9061);font-weight:normal;-webkit-text-stroke:0.45px #000000;">01</span>
<span class="t" style="left:294.45px;top:682px;font-size:10.06px;line-height:10.06px;color:#000000;transform:scaleX(0.9838);font-weight:normal;-webkit-text-stroke:0.45px #000000;">02</span>
<span class="t" style="left:317.44px;top:682px;font-size:10.06px;line-height:10.06px;color:#000000;transform:scaleX(0.9838);font-weight:normal;-webkit-text-stroke:0.45px #000000;">03</span>
<span class="t" style="left:340.44px;top:682px;font-size:10.06px;line-height:10.06px;color:#000000;transform:scaleX(0.9838);font-weight:normal;-webkit-text-stroke:0.45px #000000;">04</span>
<span class="t" style="left:363.43px;top:682px;font-size:10.06px;line-height:10.06px;color:#000000;transform:scaleX(0.9838);font-weight:normal;-webkit-text-stroke:0.45px #000000;">05</span>
<span class="t" style="left:386.43px;top:682px;font-size:10.06px;line-height:10.06px;color:#000000;transform:scaleX(0.9838);font-weight:normal;-webkit-text-stroke:0.45px #000000;">06</span>
<span class="t" style="left:409.42px;top:682px;font-size:10.06px;line-height:10.06px;color:#000000;transform:scaleX(0.9838);font-weight:normal;-webkit-text-stroke:0.45px #000000;">07</span>
<span class="t" style="left:432.42px;top:682px;font-size:10.06px;line-height:10.06px;color:#000000;transform:scaleX(0.9838);font-weight:normal;-webkit-text-stroke:0.45px #000000;">08</span>
<span class="t" style="left:455.41px;top:682px;font-size:10.06px;line-height:10.06px;color:#000000;transform:scaleX(0.9838);font-weight:normal;-webkit-text-stroke:0.45px #000000;">09</span>
<span class="t" style="left:479.31px;top:682px;font-size:10.06px;line-height:10.06px;color:#000000;transform:scaleX(0.9148);font-weight:normal;-webkit-text-stroke:0.45px #000000;">10</span>
<span class="t" style="left:502.35px;top:682px;font-size:10.06px;line-height:10.06px;color:#000000;transform:scaleX(0.8763);font-weight:normal;-webkit-text-stroke:0.45px #000000;">11</span>
<span class="t" style="left:525.3px;top:682px;font-size:10.06px;line-height:10.06px;color:#000000;transform:scaleX(0.9148);font-weight:normal;-webkit-text-stroke:0.45px #000000;">12</span>
<span class="t" style="left:548.29px;top:682px;font-size:10.06px;line-height:10.06px;color:#000000;transform:scaleX(0.9148);font-weight:normal;-webkit-text-stroke:0.45px #000000;">13</span>
<span class="t" style="left:571.29px;top:682px;font-size:10.06px;line-height:10.06px;color:#000000;transform:scaleX(0.9148);font-weight:normal;-webkit-text-stroke:0.45px #000000;">14</span>
<span class="t" style="left:594.28px;top:682px;font-size:10.06px;line-height:10.06px;color:#000000;transform:scaleX(0.9148);font-weight:normal;-webkit-text-stroke:0.45px #000000;">15</span>
<span class="t" style="left:617.28px;top:682px;font-size:10.06px;line-height:10.06px;color:#000000;transform:scaleX(0.9148);font-weight:normal;-webkit-text-stroke:0.45px #000000;">16</span>
<span class="t" style="left:640.27px;top:682px;font-size:10.06px;line-height:10.06px;color:#000000;transform:scaleX(0.9148);font-weight:normal;-webkit-text-stroke:0.45px #000000;">17</span>
<span class="t" style="left:663.27px;top:682px;font-size:10.06px;line-height:10.06px;color:#000000;transform:scaleX(0.9148);font-weight:normal;-webkit-text-stroke:0.45px #000000;">18</span>
<span class="t" style="left:686.26px;top:682px;font-size:10.06px;line-height:10.06px;color:#000000;transform:scaleX(0.9148);font-weight:normal;-webkit-text-stroke:0.45px #000000;">19</span>
<span class="t" style="left:708.36px;top:682px;font-size:10.06px;line-height:10.06px;color:#000000;transform:scaleX(0.9838);font-weight:normal;-webkit-text-stroke:0.45px #000000;">20</span>
<span class="t" style="left:731.15px;top:682px;font-size:10.06px;line-height:10.06px;color:#000000;transform:scaleX(0.9061);font-weight:normal;-webkit-text-stroke:0.45px #000000;">21</span>
<span class="t" style="left:754.35px;top:682px;font-size:10.06px;line-height:10.06px;color:#000000;transform:scaleX(0.9838);font-weight:normal;-webkit-text-stroke:0.45px #000000;">22</span>
<span class="t" style="left:749.0px;top:694px;font-size:10.47px;line-height:10.47px;color:#000000;transform:scaleX(1.0939);font-weight:normal;-webkit-text-stroke:0.45px #000000;">Year</span>
<span class="t" style="left:20.38px;top:726px;font-size:27.09px;line-height:27.09px;color:#0f2167;transform:scaleX(1.0174);">1.6%</span>
<span class="t" style="left:23.4px;top:761px;font-size:9.78px;line-height:9.78px;color:#0f2167;transform:scaleX(0.9755);">August 2022</span>
<span class="t" style="left:100.26px;top:726px;font-size:27.09px;line-height:27.09px;color:#ffffff;transform:scaleX(1.0408);">-2.0%</span>
<span class="t" style="left:115.9px;top:761px;font-size:9.78px;line-height:9.78px;color:#ffffff;transform:scaleX(0.9765);">July 2022</span>
<span class="t" style="left:188.3px;top:715px;font-size:19.27px;line-height:19.27px;color:#000000;transform:scaleX(0.9971);">Leading Composite Index, Monthly Change (%)</span>
<span class="t" style="left:190.1px;top:748px;font-size:13.13px;line-height:13.13px;color:#000000;transform:scaleX(1.1071);">Contribution of Each Component to the Percentage Change in the Leading Composite</span>
<span class="t" style="left:190.1px;top:764px;font-size:13.13px;line-height:13.13px;color:#000000;transform:scaleX(1.0273);">Index from the Previous  Month</span>
<span class="t" style="left:57.9px;top:868px;font-size:8.8px;line-height:8.8px;color:#ffffff;transform:scaleX(1.0389);">Real Money</span>
<span class="t" style="left:58.4px;top:879px;font-size:8.8px;line-height:8.8px;color:#ffffff;transform:scaleX(1.0439);">Supply, M1</span>
<span class="t" style="left:157.2px;top:868px;font-size:8.8px;line-height:8.8px;color:#ffffff;transform:scaleX(1.0208);">Bursa Malaysia</span>
<span class="t" style="left:156.4px;top:879px;font-size:8.8px;line-height:8.8px;color:#ffffff;transform:scaleX(1.0335);">Industrial Index</span>
<span class="t" style="left:267.7px;top:863px;font-size:8.8px;line-height:8.8px;color:#ffffff;transform:scaleX(1.0245);">Real Imports</span>
<span class="t" style="left:279.8px;top:874px;font-size:8.8px;line-height:8.8px;color:#ffffff;transform:scaleX(1.0055);">of Semi</span>
<span class="t" style="left:269.7px;top:886px;font-size:8.8px;line-height:8.8px;color:#ffffff;transform:scaleX(1.0189);">Conductors</span>
<span class="t" style="left:496.9px;top:863px;font-size:8.8px;line-height:8.8px;color:#ffffff;transform:scaleX(1.0055);">Number</span>
<span class="t" style="left:491.8px;top:874px;font-size:8.8px;line-height:8.8px;color:#ffffff;transform:scaleX(0.968);">of Housing</span>
<span class="t" style="left:480.5px;top:886px;font-size:8.8px;line-height:8.8px;color:#ffffff;transform:scaleX(1.0295);">Units Approved</span>
<span class="t" style="left:598.5px;top:863px;font-size:8.8px;line-height:8.8px;color:#ffffff;transform:scaleX(1.0945);">Expected</span>
<span class="t" style="left:593.5px;top:874px;font-size:8.8px;line-height:8.8px;color:#ffffff;transform:scaleX(1.0492);">Sales Value,</span>
<span class="t" style="left:588.5px;top:886px;font-size:8.8px;line-height:8.8px;color:#ffffff;transform:scaleX(1.0328);">Manufacturing</span>
<span class="t" style="left:701.8px;top:863px;font-size:8.8px;line-height:8.8px;color:#ffffff;transform:scaleX(1.0691);">Number of</span>
<span class="t" style="left:688.5px;top:874px;font-size:8.8px;line-height:8.8px;color:#ffffff;transform:scaleX(1.0653);">New Companies</span>
<span class="t" style="left:701.8px;top:886px;font-size:8.8px;line-height:8.8px;color:#ffffff;transform:scaleX(1.0179);">Registered</span>
<span class="t" style="left:372.7px;top:859px;font-size:8.38px;line-height:8.38px;color:#ffffff;transform:scaleX(1.0495);">Real Imports of</span>
<span class="t" style="left:361.3px;top:869px;font-size:8.38px;line-height:8.38px;color:#ffffff;transform:scaleX(1.0275);">Other Basic Precious</span>
<span class="t" style="left:360.8px;top:879px;font-size:8.38px;line-height:8.38px;color:#ffffff;transform:scaleX(1.0511);">&amp; Other  Non-ferrous</span>
<span class="t" style="left:390.3px;top:890px;font-size:8.38px;line-height:8.38px;color:#ffffff;transform:scaleX(1.0679);">Metals</span>
<span class="t" style="left:46.8px;top:918px;font-size:15.36px;line-height:15.36px;color:#0f2167;transform:scaleX(0.9193);font-weight:normal;-webkit-text-stroke:0.5px #0f2167;">0.1%</span>
<span class="t" style="left:83.3px;top:917px;font-size:16.5px;line-height:16.5px;color:#0f2167;transform:scaleX(0.55);font-weight:normal;-webkit-text-stroke:0.3px #0f2167;">|</span>
<span class="t" style="left:89.9px;top:923px;font-size:8.66px;line-height:8.66px;color:#0f2167;transform:scaleX(1.0801);letter-spacing:0.567px;">-0.2%</span>
<span class="t" style="left:154.1px;top:918px;font-size:15.36px;line-height:15.36px;color:#0f2167;transform:scaleX(0.9292);font-weight:normal;-webkit-text-stroke:0.5px #0f2167;">-0.4%</span>
<span class="t" style="left:195.1px;top:917px;font-size:16.5px;line-height:16.5px;color:#0f2167;transform:scaleX(0.55);font-weight:normal;-webkit-text-stroke:0.3px #0f2167;">|</span>
<span class="t" style="left:201.8px;top:923px;font-size:8.66px;line-height:8.66px;color:#0f2167;transform:scaleX(1.0648);">-0.1%</span>
<span class="t" style="left:264.49px;top:918px;font-size:15.36px;line-height:15.36px;color:#0f2167;transform:scaleX(0.9112);font-weight:normal;-webkit-text-stroke:0.5px #0f2167;">1.0%</span>
<span class="t" style="left:300.1px;top:917px;font-size:16.5px;line-height:16.5px;color:#0f2167;transform:scaleX(0.55);font-weight:normal;-webkit-text-stroke:0.3px #0f2167;">|</span>
<span class="t" style="left:306.8px;top:923px;font-size:8.66px;line-height:8.66px;color:#0f2167;transform:scaleX(1.0429);">-0.5%</span>
<span class="t" style="left:367.3px;top:918px;font-size:15.36px;line-height:15.36px;color:#0f2167;transform:scaleX(0.9119);font-weight:normal;-webkit-text-stroke:0.5px #0f2167;">-0.2%</span>
<span class="t" style="left:408.6px;top:917px;font-size:16.5px;line-height:16.5px;color:#0f2167;transform:scaleX(0.55);font-weight:normal;-webkit-text-stroke:0.3px #0f2167;">|</span>
<span class="t" style="left:415.0px;top:923px;font-size:8.66px;line-height:8.66px;color:#0f2167;transform:scaleX(1.0429);">-0.9%</span>
<span class="t" style="left:480.29px;top:918px;font-size:15.36px;line-height:15.36px;color:#0f2167;transform:scaleX(0.9112);font-weight:normal;-webkit-text-stroke:0.5px #0f2167;">1.1%</span>
<span class="t" style="left:516.4px;top:917px;font-size:16.5px;line-height:16.5px;color:#0f2167;transform:scaleX(0.55);font-weight:normal;-webkit-text-stroke:0.3px #0f2167;">|</span>
<span class="t" style="left:523.0px;top:923px;font-size:8.66px;line-height:8.66px;color:#0f2167;transform:scaleX(1.0255);">-0.1%</span>
<span class="t" style="left:587.4px;top:918px;font-size:15.36px;line-height:15.36px;color:#0f2167;transform:scaleX(0.9094);font-weight:normal;-webkit-text-stroke:0.5px #0f2167;">-0.1%</span>
<span class="t" style="left:628.2px;top:917px;font-size:16.5px;line-height:16.5px;color:#0f2167;transform:scaleX(0.55);font-weight:normal;-webkit-text-stroke:0.3px #0f2167;">|</span>
<span class="t" style="left:634.3px;top:923px;font-size:8.66px;line-height:8.66px;color:#0f2167;transform:scaleX(1.0183);">0.1%</span>
<span class="t" style="left:695.5px;top:918px;font-size:15.36px;line-height:15.36px;color:#0f2167;transform:scaleX(0.9052);font-weight:normal;-webkit-text-stroke:0.5px #0f2167;">0.1%</span>
<span class="t" style="left:731.4px;top:917px;font-size:16.5px;line-height:16.5px;color:#0f2167;transform:scaleX(0.55);font-weight:normal;-webkit-text-stroke:0.3px #0f2167;">|</span>
<span class="t" style="left:738.1px;top:923px;font-size:8.66px;line-height:8.66px;color:#0f2167;transform:scaleX(1.0429);">-0.3%</span>
<span class="t" style="left:-1.0px;top:946px;font-size:9.08px;line-height:9.08px;color:#ffffff;transform:scaleX(0.991);">Note: August 2022</span>
<span class="t" style="left:79.6px;top:946px;font-size:9px;line-height:9px;color:#ffffff;transform:scaleX(0.4);font-weight:normal;">|</span>
<span class="t" style="left:83.0px;top:949px;font-size:6.7px;line-height:6.7px;color:#ffffff;transform:scaleX(1.0823);">July 2022</span>
<span class="t" style="left:399.1px;top:962px;font-size:8.1px;line-height:8.1px;color:#0f2167;transform:scaleX(0.9728);">Source: Malaysian  Economic Indicators-  Leading, Coincident &amp; Lagging  Indexes, August 2022,</span>
<span class="t" style="left:497.4px;top:973px;font-size:8.1px;line-height:8.1px;color:#0f2167;transform:scaleX(0.9806);">Department of Statistics  Malaysia  (DOSM)</span>
</div></body></html>
